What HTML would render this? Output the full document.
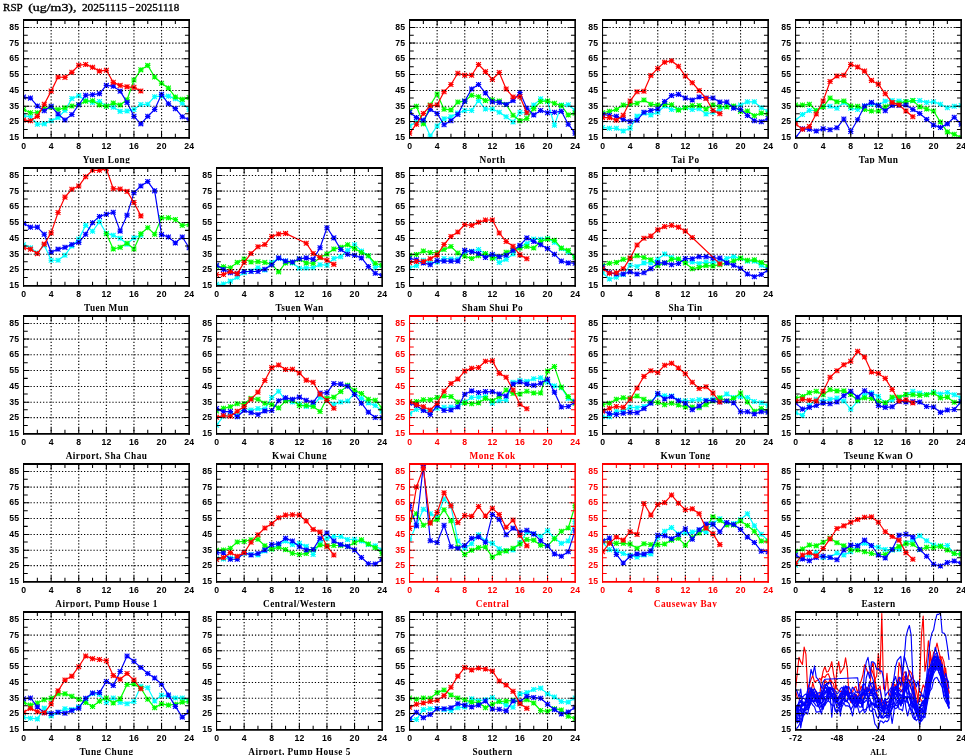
<!DOCTYPE html>
<html lang="en"><head><meta charset="utf-8"><title>RSP (ug/m3), 20251115-20251118</title>
<style>
html,body{margin:0;padding:0;background:#fff;}
body{width:965px;height:755px;overflow:hidden;}
svg{display:block;}
text{white-space:pre;}
.t{font-family:"Liberation Serif","DejaVu Serif",serif;font-size:11.4px;fill:#000;stroke:#000;stroke-width:.35px;}
.n{font-family:"Liberation Sans","DejaVu Sans",sans-serif;font-weight:bold;font-size:8.7px;letter-spacing:.2px;}
.l{font-family:"Liberation Serif","DejaVu Serif",serif;font-weight:bold;font-size:9.3px;text-anchor:middle;letter-spacing:.45px;}
.gr{fill:none;stroke:#000;stroke-width:1.15;stroke-dasharray:1.25 1.9;}
.k{fill:none;stroke-width:1.05;}
.s{fill:none;stroke-width:1.2;stroke-linejoin:round;}
.c{stroke:#0ff;marker:url(#mc);}
.g{stroke:#0f0;marker:url(#mg);}
.b{stroke:#00f;marker:url(#mb);}
.r{stroke:#f00;marker:url(#mr);}
.a{fill:none;stroke-width:1.15;stroke-linejoin:round;}
</style></head><body>
<svg width="965" height="755" viewBox="0 0 965 755">
<rect width="965" height="755" fill="#fff"/>
<defs>
<marker id="mc" viewBox="-4 -4 8 8" markerWidth="8" markerHeight="8" refX="0" refY="0" markerUnits="userSpaceOnUse" orient="0"><path d="M-2.7 0H2.7M0 -2.5V2.5M-2.4 -2.4L2.4 2.4M2.4 -2.4L-2.4 2.4" fill="none" stroke="#00ffff" stroke-width="1.1"/></marker>
<marker id="mg" viewBox="-4 -4 8 8" markerWidth="8" markerHeight="8" refX="0" refY="0" markerUnits="userSpaceOnUse" orient="0"><path d="M-2.7 0H2.7M0 -2.5V2.5M-2.4 -2.4L2.4 2.4M2.4 -2.4L-2.4 2.4" fill="none" stroke="#00ff00" stroke-width="1.1"/></marker>
<marker id="mb" viewBox="-4 -4 8 8" markerWidth="8" markerHeight="8" refX="0" refY="0" markerUnits="userSpaceOnUse" orient="0"><path d="M-2.7 0H2.7M0 -2.5V2.5M-2.4 -2.4L2.4 2.4M2.4 -2.4L-2.4 2.4" fill="none" stroke="#0000ff" stroke-width="1.1"/></marker>
<marker id="mr" viewBox="-4 -4 8 8" markerWidth="8" markerHeight="8" refX="0" refY="0" markerUnits="userSpaceOnUse" orient="0"><path d="M-2.7 0H2.7M0 -2.5V2.5M-2.4 -2.4L2.4 2.4M2.4 -2.4L-2.4 2.4" fill="none" stroke="#ff0000" stroke-width="1.1"/></marker>
</defs>
<text class="t" y="10.9"><tspan x="3.1" textLength="19.2" lengthAdjust="spacingAndGlyphs">RSP</tspan> <tspan x="28.2" textLength="48.3" lengthAdjust="spacingAndGlyphs">(ug/m3),</tspan> <tspan x="81.9" textLength="45" lengthAdjust="spacingAndGlyphs">20251115</tspan><tspan x="128.9" dy="-0.8" textLength="5.6" lengthAdjust="spacingAndGlyphs">-</tspan><tspan x="135.6" dy="0.8" textLength="43.6" lengthAdjust="spacingAndGlyphs">20251118</tspan></text>
<clipPath id="k00"><rect x="23.55" y="19.95" width="165.6" height="117.85"/></clipPath>
<g clip-path="url(#k00)">
<polyline class="s c" points="23.55,115.81 30.45,116.7 37.35,124.21 44.25,123.85 51.15,120.81 58.05,117.59 64.95,110.44 71.85,98.46 78.75,95.78 85.65,100.61 92.55,102.4 99.45,101.5 106.35,105.97 113.25,107.22 120.15,111.34 127.05,110.98 133.95,109.55 140.85,104.54 147.75,104.19 154.65,96.68 161.55,96.14 168.45,96.14 175.35,98.82 182.25,103.29 189.15,109.55"/>
<polyline class="s g" points="23.55,109.55 30.45,112.77 37.35,112.77 44.25,108.65 51.15,107.22 58.05,109.55 64.95,107.76 71.85,105.97 78.75,104.72 85.65,101.15 92.55,100.79 99.45,105.08 106.35,106.33 113.25,102.93 120.15,105.08 127.05,99.72 133.95,80.05 140.85,69.86 147.75,65.39 154.65,77.01 161.55,83.27 168.45,88.09 175.35,97.03 182.25,99.36 189.15,97.57"/>
<polyline class="s b" points="23.55,97.03 30.45,98.11 37.35,105.97 44.25,110.8 51.15,106.33 58.05,114.02 64.95,119.92 71.85,114.56 78.75,104.72 85.65,95.25 92.55,94.71 99.45,93.64 106.35,85.41 113.25,86.13 120.15,91.13 127.05,102.4 133.95,116.34 140.85,123.85 147.75,116.34 154.65,109.55 161.55,94.35 168.45,103.83 175.35,108.65 182.25,116.7 189.15,119.74"/>
<polyline class="s r" points="23.55,119.92 30.45,120.81 37.35,116.34 44.25,104.19 51.15,91.13 58.05,77.01 64.95,77.37 71.85,72.36 78.75,65.21 85.65,64.49 92.55,67.17 99.45,71.11 106.35,70.21 113.25,82.37 120.15,85.41 127.05,86.84 133.95,87.38 140.85,90.95"/>
</g>
<path class="k" stroke="#000" d="M23.55 129.5h4.2M189.15 129.5h-4.2M23.55 121.55h5.8M189.15 121.55h-5.8M23.55 113.78h4.2M189.15 113.78h-4.2M23.55 106.2h5.8M189.15 106.2h-5.8M23.55 98.07h4.2M189.15 98.07h-4.2M23.55 90.45h5.8M189.15 90.45h-5.8M23.55 82.36h4.2M189.15 82.36h-4.2M23.55 74.5h5.8M189.15 74.5h-5.8M23.55 66.66h4.2M189.15 66.66h-4.2M23.55 58.7h5.8M189.15 58.7h-5.8M23.55 50.94h4.2M189.15 50.94h-4.2M23.55 43.05h5.8M189.15 43.05h-5.8M23.55 35.23h4.2M189.15 35.23h-4.2M23.55 27.45h5.8M189.15 27.45h-5.8M51.15 19.95v5.8M51.15 137.8v-5.8M78.75 19.95v5.8M78.75 137.8v-5.8M106.35 19.95v5.8M106.35 137.8v-5.8M133.95 19.95v5.8M133.95 137.8v-5.8M161.55 19.95v5.8M161.55 137.8v-5.8M37.35 19.95v4.1M37.35 137.8v-4.1M64.95 19.95v4.1M64.95 137.8v-4.1M92.55 19.95v4.1M92.55 137.8v-4.1M120.15 19.95v4.1M120.15 137.8v-4.1M147.75 19.95v4.1M147.75 137.8v-4.1M175.35 19.95v4.1M175.35 137.8v-4.1"/>
<g stroke="#000" fill="none">
<path stroke-width="1.85" d="M23 19.95H189.95"/>
<path stroke-width="1.7" d="M23 137.8H189.95"/>
<path stroke-width="1.1" d="M23.55 19.02V138.65"/>
<path stroke-width="1.6" d="M189.15 19.02V138.65"/>
</g>
<path class="gr" d="M24.15 121.55H188.25M24.15 106.2H188.25M24.15 90.45H188.25M24.15 74.5H188.25M24.15 58.7H188.25M24.15 43.05H188.25M24.15 27.45H188.25M51.15 20.55V137M78.75 20.55V137M106.35 20.55V137M133.95 20.55V137M161.55 20.55V137"/>
<g class="n" fill="#000">
<text x="19.25" y="140" text-anchor="end">15</text>
<text x="19.25" y="124.2" text-anchor="end">25</text>
<text x="19.25" y="108.85" text-anchor="end">35</text>
<text x="19.25" y="93.1" text-anchor="end">45</text>
<text x="19.25" y="77.15" text-anchor="end">55</text>
<text x="19.25" y="61.35" text-anchor="end">65</text>
<text x="19.25" y="45.7" text-anchor="end">75</text>
<text x="19.25" y="30.1" text-anchor="end">85</text>
<text x="23.65" y="149" text-anchor="middle">0</text>
<text x="51.25" y="149" text-anchor="middle">4</text>
<text x="78.85" y="149" text-anchor="middle">8</text>
<text x="106.45" y="149" text-anchor="middle">12</text>
<text x="134.05" y="149" text-anchor="middle">16</text>
<text x="161.65" y="149" text-anchor="middle">20</text>
<text x="189.25" y="149" text-anchor="middle">24</text>
</g>
<text class="l" x="106.55" y="162.8" fill="#000">Yuen Long</text>
<rect x="3.55" y="163.4" width="195.6" height="3.6" fill="#fff"/>
<clipPath id="k02"><rect x="409.55" y="19.95" width="165.6" height="117.85"/></clipPath>
<g clip-path="url(#k02)">
<polyline class="s c" points="409.55,126 416.45,122.06 423.35,120.28 430.25,136.01 437.15,126 444.05,118.85 450.95,116.7 457.85,113.12 464.75,110.44 471.65,110.44 478.55,100.61 485.45,109.01 492.35,109.01 499.25,112.23 506.15,116.7 513.05,122.06 519.95,112.23 526.85,113.12 533.75,105.08 540.65,98.82 547.55,101.5 554.45,125.28 561.35,105.08 568.25,104.72 575.15,110.44"/>
<polyline class="s g" points="409.55,110.44 416.45,106.33 423.35,123.85 430.25,105.08 437.15,93.99 444.05,109.19 450.95,109.91 457.85,102.04 464.75,101.15 471.65,95.25 478.55,96.68 485.45,100.61 492.35,99.72 499.25,100.97 506.15,104.54 513.05,115.27 519.95,120.81 526.85,118.49 533.75,108.65 540.65,101.5 547.55,100.97 554.45,103.29 561.35,105.62 568.25,114.91 575.15,113.12"/>
<polyline class="s b" points="409.55,112.59 416.45,117.59 423.35,120.28 430.25,109.55 437.15,113.48 444.05,124.75 450.95,120.81 457.85,114.38 464.75,101.15 471.65,88.99 478.55,84.52 485.45,92.92 492.35,101.86 499.25,102.4 506.15,104.54 513.05,100.61 519.95,92.56 526.85,108.3 533.75,114.91 540.65,110.44 547.55,112.77 554.45,112.23 561.35,111.34 568.25,124.21 575.15,133.15"/>
<polyline class="s r" points="409.55,133.15 416.45,124.21 423.35,113.48 430.25,105.62 437.15,105.08 444.05,91.67 450.95,84.52 457.85,73.25 464.75,75.22 471.65,75.22 478.55,64.49 485.45,71.64 492.35,79.51 499.25,72.54 506.15,88.99 513.05,97.03 519.95,96.68 526.85,112.77"/>
</g>
<path class="k" stroke="#000" d="M409.55 129.5h4.2M575.15 129.5h-4.2M409.55 121.55h5.8M575.15 121.55h-5.8M409.55 113.78h4.2M575.15 113.78h-4.2M409.55 106.2h5.8M575.15 106.2h-5.8M409.55 98.07h4.2M575.15 98.07h-4.2M409.55 90.45h5.8M575.15 90.45h-5.8M409.55 82.36h4.2M575.15 82.36h-4.2M409.55 74.5h5.8M575.15 74.5h-5.8M409.55 66.66h4.2M575.15 66.66h-4.2M409.55 58.7h5.8M575.15 58.7h-5.8M409.55 50.94h4.2M575.15 50.94h-4.2M409.55 43.05h5.8M575.15 43.05h-5.8M409.55 35.23h4.2M575.15 35.23h-4.2M409.55 27.45h5.8M575.15 27.45h-5.8M437.15 19.95v5.8M437.15 137.8v-5.8M464.75 19.95v5.8M464.75 137.8v-5.8M492.35 19.95v5.8M492.35 137.8v-5.8M519.95 19.95v5.8M519.95 137.8v-5.8M547.55 19.95v5.8M547.55 137.8v-5.8M423.35 19.95v4.1M423.35 137.8v-4.1M450.95 19.95v4.1M450.95 137.8v-4.1M478.55 19.95v4.1M478.55 137.8v-4.1M506.15 19.95v4.1M506.15 137.8v-4.1M533.75 19.95v4.1M533.75 137.8v-4.1M561.35 19.95v4.1M561.35 137.8v-4.1"/>
<g stroke="#000" fill="none">
<path stroke-width="1.85" d="M409 19.95H575.95"/>
<path stroke-width="1.7" d="M409 137.8H575.95"/>
<path stroke-width="1.1" d="M409.55 19.02V138.65"/>
<path stroke-width="1.6" d="M575.15 19.02V138.65"/>
</g>
<path class="gr" d="M410.15 121.55H574.25M410.15 106.2H574.25M410.15 90.45H574.25M410.15 74.5H574.25M410.15 58.7H574.25M410.15 43.05H574.25M410.15 27.45H574.25M437.15 20.55V137M464.75 20.55V137M492.35 20.55V137M519.95 20.55V137M547.55 20.55V137"/>
<g class="n" fill="#000">
<text x="405.25" y="140" text-anchor="end">15</text>
<text x="405.25" y="124.2" text-anchor="end">25</text>
<text x="405.25" y="108.85" text-anchor="end">35</text>
<text x="405.25" y="93.1" text-anchor="end">45</text>
<text x="405.25" y="77.15" text-anchor="end">55</text>
<text x="405.25" y="61.35" text-anchor="end">65</text>
<text x="405.25" y="45.7" text-anchor="end">75</text>
<text x="405.25" y="30.1" text-anchor="end">85</text>
<text x="409.65" y="149" text-anchor="middle">0</text>
<text x="437.25" y="149" text-anchor="middle">4</text>
<text x="464.85" y="149" text-anchor="middle">8</text>
<text x="492.45" y="149" text-anchor="middle">12</text>
<text x="520.05" y="149" text-anchor="middle">16</text>
<text x="547.65" y="149" text-anchor="middle">20</text>
<text x="575.25" y="149" text-anchor="middle">24</text>
</g>
<text class="l" x="492.55" y="162.8" fill="#000">North</text>
<rect x="389.55" y="163.4" width="195.6" height="3.6" fill="#fff"/>
<clipPath id="k03"><rect x="602.55" y="19.95" width="165.6" height="117.85"/></clipPath>
<g clip-path="url(#k03)">
<polyline class="s c" points="602.55,127.43 609.45,128.32 616.35,128.32 623.25,131 630.15,128.32 637.05,116.16 643.95,113.12 650.85,114.91 657.75,112.23 664.65,105.97 671.55,109.55 678.45,109.55 685.35,107.76 692.25,109.55 699.15,108.65 706.05,114.02 712.95,112.23 719.85,109.55 726.75,105.97 733.65,106.87 740.55,105.08 747.45,101.86 754.35,101.86 761.25,107.76 768.15,111.34"/>
<polyline class="s g" points="602.55,112.77 609.45,111.34 616.35,109.55 623.25,105.08 630.15,104.19 637.05,103.29 643.95,100.07 650.85,104.19 657.75,105.08 664.65,104.19 671.55,104.72 678.45,110.09 685.35,107.76 692.25,105.62 699.15,105.62 706.05,109.01 712.95,105.08 719.85,106.51 726.75,106.87 733.65,105.97 740.55,111.34 747.45,110.98 754.35,115.81 761.25,113.12 768.15,114.02"/>
<polyline class="s b" points="602.55,114.56 609.45,115.27 616.35,116.34 623.25,119.38 630.15,121.53 637.05,120.28 643.95,112.23 650.85,110.44 657.75,109.01 664.65,101.5 671.55,95.6 678.45,94.35 685.35,97.93 692.25,100.07 699.15,97.03 706.05,97.93 712.95,97.93 719.85,102.04 726.75,102.04 733.65,108.12 740.55,109.55 747.45,115.45 754.35,120.81 761.25,121.71 768.15,118.49"/>
<polyline class="s r" points="602.55,117.59 609.45,117.59 616.35,120.28 623.25,115.27 630.15,100.97 637.05,91.67 643.95,91.31 650.85,75.58 657.75,68.43 664.65,62.17 671.55,60.74 678.45,66.28 685.35,75.94 692.25,82.73 699.15,90.42 706.05,98.46 712.95,110.44 719.85,113.66"/>
</g>
<path class="k" stroke="#000" d="M602.55 129.5h4.2M768.15 129.5h-4.2M602.55 121.55h5.8M768.15 121.55h-5.8M602.55 113.78h4.2M768.15 113.78h-4.2M602.55 106.2h5.8M768.15 106.2h-5.8M602.55 98.07h4.2M768.15 98.07h-4.2M602.55 90.45h5.8M768.15 90.45h-5.8M602.55 82.36h4.2M768.15 82.36h-4.2M602.55 74.5h5.8M768.15 74.5h-5.8M602.55 66.66h4.2M768.15 66.66h-4.2M602.55 58.7h5.8M768.15 58.7h-5.8M602.55 50.94h4.2M768.15 50.94h-4.2M602.55 43.05h5.8M768.15 43.05h-5.8M602.55 35.23h4.2M768.15 35.23h-4.2M602.55 27.45h5.8M768.15 27.45h-5.8M630.15 19.95v5.8M630.15 137.8v-5.8M657.75 19.95v5.8M657.75 137.8v-5.8M685.35 19.95v5.8M685.35 137.8v-5.8M712.95 19.95v5.8M712.95 137.8v-5.8M740.55 19.95v5.8M740.55 137.8v-5.8M616.35 19.95v4.1M616.35 137.8v-4.1M643.95 19.95v4.1M643.95 137.8v-4.1M671.55 19.95v4.1M671.55 137.8v-4.1M699.15 19.95v4.1M699.15 137.8v-4.1M726.75 19.95v4.1M726.75 137.8v-4.1M754.35 19.95v4.1M754.35 137.8v-4.1"/>
<g stroke="#000" fill="none">
<path stroke-width="1.85" d="M602 19.95H768.95"/>
<path stroke-width="1.7" d="M602 137.8H768.95"/>
<path stroke-width="1.1" d="M602.55 19.02V138.65"/>
<path stroke-width="1.6" d="M768.15 19.02V138.65"/>
</g>
<path class="gr" d="M603.15 121.55H767.25M603.15 106.2H767.25M603.15 90.45H767.25M603.15 74.5H767.25M603.15 58.7H767.25M603.15 43.05H767.25M603.15 27.45H767.25M630.15 20.55V137M657.75 20.55V137M685.35 20.55V137M712.95 20.55V137M740.55 20.55V137"/>
<g class="n" fill="#000">
<text x="598.25" y="140" text-anchor="end">15</text>
<text x="598.25" y="124.2" text-anchor="end">25</text>
<text x="598.25" y="108.85" text-anchor="end">35</text>
<text x="598.25" y="93.1" text-anchor="end">45</text>
<text x="598.25" y="77.15" text-anchor="end">55</text>
<text x="598.25" y="61.35" text-anchor="end">65</text>
<text x="598.25" y="45.7" text-anchor="end">75</text>
<text x="598.25" y="30.1" text-anchor="end">85</text>
<text x="602.65" y="149" text-anchor="middle">0</text>
<text x="630.25" y="149" text-anchor="middle">4</text>
<text x="657.85" y="149" text-anchor="middle">8</text>
<text x="685.45" y="149" text-anchor="middle">12</text>
<text x="713.05" y="149" text-anchor="middle">16</text>
<text x="740.65" y="149" text-anchor="middle">20</text>
<text x="768.25" y="149" text-anchor="middle">24</text>
</g>
<text class="l" x="685.55" y="162.8" fill="#000">Tai Po</text>
<rect x="582.55" y="163.4" width="195.6" height="3.6" fill="#fff"/>
<clipPath id="k04"><rect x="795.55" y="19.95" width="165.6" height="117.85"/></clipPath>
<g clip-path="url(#k04)">
<polyline class="s c" points="795.55,120.28 802.45,114.56 809.35,110.44 816.25,110.44 823.15,106.33 830.05,106.33 836.95,108.3 843.85,102.4 850.75,108.3 857.65,109.55 864.55,105.97 871.45,104.19 878.35,105.08 885.25,101.15 892.15,100.61 899.05,100.97 905.95,101.5 912.85,100.61 919.75,100.61 926.65,102.4 933.55,101.86 940.45,104.19 947.35,107.76 954.25,106.33 961.15,105.44"/>
<polyline class="s g" points="795.55,105.08 802.45,105.08 809.35,104.19 816.25,110.44 823.15,106.87 830.05,97.93 836.95,101.86 843.85,100.97 850.75,105.97 857.65,106.33 864.55,109.55 871.45,110.98 878.35,110.98 885.25,106.87 892.15,103.29 899.05,103.29 905.95,101.86 912.85,100.61 919.75,106.87 926.65,109.01 933.55,110.98 940.45,122.06 947.35,131.9 954.25,134.22 961.15,137.62"/>
<polyline class="s b" points="795.55,137.62 802.45,128.86 809.35,129.22 816.25,131 823.15,128.86 830.05,129.75 836.95,127.79 843.85,119.02 850.75,131.54 857.65,119.74 864.55,105.97 871.45,102.4 878.35,105.44 885.25,110.8 892.15,105.44 899.05,105.44 905.95,105.08 912.85,109.55 919.75,113.48 926.65,119.38 933.55,125.1 940.45,127.43 947.35,123.85 954.25,117.24 961.15,124.21"/>
<polyline class="s r" points="795.55,123.85 802.45,129.22 809.35,126.53 816.25,114.02 823.15,100.97 830.05,81.48 836.95,75.94 843.85,75.22 850.75,64.49 857.65,67 864.55,71.11 871.45,80.41 878.35,84.16 885.25,93.81 892.15,102.4 899.05,105.08 905.95,110.98 912.85,116.7"/>
</g>
<path class="k" stroke="#000" d="M795.55 129.5h4.2M961.15 129.5h-4.2M795.55 121.55h5.8M961.15 121.55h-5.8M795.55 113.78h4.2M961.15 113.78h-4.2M795.55 106.2h5.8M961.15 106.2h-5.8M795.55 98.07h4.2M961.15 98.07h-4.2M795.55 90.45h5.8M961.15 90.45h-5.8M795.55 82.36h4.2M961.15 82.36h-4.2M795.55 74.5h5.8M961.15 74.5h-5.8M795.55 66.66h4.2M961.15 66.66h-4.2M795.55 58.7h5.8M961.15 58.7h-5.8M795.55 50.94h4.2M961.15 50.94h-4.2M795.55 43.05h5.8M961.15 43.05h-5.8M795.55 35.23h4.2M961.15 35.23h-4.2M795.55 27.45h5.8M961.15 27.45h-5.8M823.15 19.95v5.8M823.15 137.8v-5.8M850.75 19.95v5.8M850.75 137.8v-5.8M878.35 19.95v5.8M878.35 137.8v-5.8M905.95 19.95v5.8M905.95 137.8v-5.8M933.55 19.95v5.8M933.55 137.8v-5.8M809.35 19.95v4.1M809.35 137.8v-4.1M836.95 19.95v4.1M836.95 137.8v-4.1M864.55 19.95v4.1M864.55 137.8v-4.1M892.15 19.95v4.1M892.15 137.8v-4.1M919.75 19.95v4.1M919.75 137.8v-4.1M947.35 19.95v4.1M947.35 137.8v-4.1"/>
<g stroke="#000" fill="none">
<path stroke-width="1.85" d="M795 19.95H961.95"/>
<path stroke-width="1.7" d="M795 137.8H961.95"/>
<path stroke-width="1.1" d="M795.55 19.02V138.65"/>
<path stroke-width="1.6" d="M961.15 19.02V138.65"/>
</g>
<path class="gr" d="M796.15 121.55H960.25M796.15 106.2H960.25M796.15 90.45H960.25M796.15 74.5H960.25M796.15 58.7H960.25M796.15 43.05H960.25M796.15 27.45H960.25M823.15 20.55V137M850.75 20.55V137M878.35 20.55V137M905.95 20.55V137M933.55 20.55V137"/>
<g class="n" fill="#000">
<text x="791.25" y="140" text-anchor="end">15</text>
<text x="791.25" y="124.2" text-anchor="end">25</text>
<text x="791.25" y="108.85" text-anchor="end">35</text>
<text x="791.25" y="93.1" text-anchor="end">45</text>
<text x="791.25" y="77.15" text-anchor="end">55</text>
<text x="791.25" y="61.35" text-anchor="end">65</text>
<text x="791.25" y="45.7" text-anchor="end">75</text>
<text x="791.25" y="30.1" text-anchor="end">85</text>
<text x="795.65" y="149" text-anchor="middle">0</text>
<text x="823.25" y="149" text-anchor="middle">4</text>
<text x="850.85" y="149" text-anchor="middle">8</text>
<text x="878.45" y="149" text-anchor="middle">12</text>
<text x="906.05" y="149" text-anchor="middle">16</text>
<text x="933.65" y="149" text-anchor="middle">20</text>
<text x="961.25" y="149" text-anchor="middle">24</text>
</g>
<text class="l" x="878.55" y="162.8" fill="#000">Tap Mun</text>
<rect x="775.55" y="163.4" width="195.6" height="3.6" fill="#fff"/>
<clipPath id="k10"><rect x="23.55" y="167.95" width="165.6" height="117.85"/></clipPath>
<g clip-path="url(#k10)">
<polyline class="s c" points="23.55,244.68 30.45,247.72 37.35,253.08 44.25,245.03 51.15,260.23 58.05,260.23 64.95,255.22 71.85,245.93 78.75,239.13 85.65,225.37 92.55,231.27 99.45,221.79 106.35,233.41 113.25,235.2 120.15,238.24 127.05,244.14 133.95,237.88 140.85,235.2"/>
<polyline class="s g" points="106.35,233.77 113.25,248.97 120.15,247.36 127.05,243.25 133.95,248.97 140.85,233.77 147.75,227.69 154.65,234.31 161.55,217.86 168.45,217.86 175.35,219.47 182.25,225.37 189.15,224.47"/>
<polyline class="s b" points="23.55,223.58 30.45,227.15 37.35,227.15 44.25,234.31 51.15,252.19 58.05,249.15 64.95,247.36 71.85,244.5 78.75,242.35 85.65,234.31 92.55,222.68 99.45,216.43 106.35,214.28 113.25,212.31 120.15,231.09 127.05,215.17 133.95,192.65 140.85,186.03 147.75,181.56 154.65,190.86 161.55,234.66 168.45,236.99 175.35,242.89 182.25,236.99 189.15,247.72"/>
<polyline class="s r" points="23.55,247.72 30.45,249.15 37.35,253.62 44.25,244.14 51.15,232.88 58.05,212.49 64.95,197.12 71.85,189.25 78.75,186.03 85.65,176.73 92.55,170.3 99.45,170.3 106.35,168.69 113.25,188.71 120.15,189.07 127.05,191.4 133.95,202.48 140.85,215.89"/>
</g>
<path class="k" stroke="#000" d="M23.55 277.5h4.2M189.15 277.5h-4.2M23.55 269.55h5.8M189.15 269.55h-5.8M23.55 261.79h4.2M189.15 261.79h-4.2M23.55 254.2h5.8M189.15 254.2h-5.8M23.55 246.08h4.2M189.15 246.08h-4.2M23.55 238.45h5.8M189.15 238.45h-5.8M23.55 230.37h4.2M189.15 230.37h-4.2M23.55 222.5h5.8M189.15 222.5h-5.8M23.55 214.66h4.2M189.15 214.66h-4.2M23.55 206.7h5.8M189.15 206.7h-5.8M23.55 198.95h4.2M189.15 198.95h-4.2M23.55 191.05h5.8M189.15 191.05h-5.8M23.55 183.24h4.2M189.15 183.24h-4.2M23.55 175.45h5.8M189.15 175.45h-5.8M51.15 167.95v5.8M51.15 285.8v-5.8M78.75 167.95v5.8M78.75 285.8v-5.8M106.35 167.95v5.8M106.35 285.8v-5.8M133.95 167.95v5.8M133.95 285.8v-5.8M161.55 167.95v5.8M161.55 285.8v-5.8M37.35 167.95v4.1M37.35 285.8v-4.1M64.95 167.95v4.1M64.95 285.8v-4.1M92.55 167.95v4.1M92.55 285.8v-4.1M120.15 167.95v4.1M120.15 285.8v-4.1M147.75 167.95v4.1M147.75 285.8v-4.1M175.35 167.95v4.1M175.35 285.8v-4.1"/>
<g stroke="#000" fill="none">
<path stroke-width="1.85" d="M23 167.95H189.95"/>
<path stroke-width="1.7" d="M23 285.8H189.95"/>
<path stroke-width="1.1" d="M23.55 167.02V286.65"/>
<path stroke-width="1.6" d="M189.15 167.02V286.65"/>
</g>
<path class="gr" d="M24.15 269.55H188.25M24.15 254.2H188.25M24.15 238.45H188.25M24.15 222.5H188.25M24.15 206.7H188.25M24.15 191.05H188.25M24.15 175.45H188.25M51.15 168.55V285M78.75 168.55V285M106.35 168.55V285M133.95 168.55V285M161.55 168.55V285"/>
<g class="n" fill="#000">
<text x="19.25" y="288" text-anchor="end">15</text>
<text x="19.25" y="272.2" text-anchor="end">25</text>
<text x="19.25" y="256.85" text-anchor="end">35</text>
<text x="19.25" y="241.1" text-anchor="end">45</text>
<text x="19.25" y="225.15" text-anchor="end">55</text>
<text x="19.25" y="209.35" text-anchor="end">65</text>
<text x="19.25" y="193.7" text-anchor="end">75</text>
<text x="19.25" y="178.1" text-anchor="end">85</text>
<text x="23.65" y="297" text-anchor="middle">0</text>
<text x="51.25" y="297" text-anchor="middle">4</text>
<text x="78.85" y="297" text-anchor="middle">8</text>
<text x="106.45" y="297" text-anchor="middle">12</text>
<text x="134.05" y="297" text-anchor="middle">16</text>
<text x="161.65" y="297" text-anchor="middle">20</text>
<text x="189.25" y="297" text-anchor="middle">24</text>
</g>
<text class="l" x="106.55" y="310.8" fill="#000">Tuen Mun</text>
<rect x="3.55" y="311.4" width="195.6" height="3.6" fill="#fff"/>
<clipPath id="k11"><rect x="216.55" y="167.95" width="165.6" height="117.85"/></clipPath>
<g clip-path="url(#k11)">
<polyline class="s c" points="216.55,284.37 223.45,284.01 230.35,281.15 237.25,277.22 244.15,272.75 251.05,270.96 257.95,267.74 264.85,270.06 271.75,262.38 278.65,258.44 285.55,261.12 292.45,262.91 299.35,268.28 306.25,267.92 313.15,267.74 320.05,264.7 326.95,265.24 333.85,258.44 340.75,256.65 347.65,250.4 354.55,244.68 361.45,250.93 368.35,255.76 375.25,267.38 382.15,265.59"/>
<polyline class="s g" points="216.55,266.49 223.45,266.85 230.35,267.74 237.25,262.38 244.15,258.98 251.05,262.02 257.95,261.66 264.85,262.38 271.75,264.34 278.65,271.85 285.55,262.91 292.45,262.38 299.35,259.34 306.25,262.91 313.15,263.27 320.05,257.55 326.95,253.97 333.85,248.97 340.75,247.36 347.65,244.68 354.55,248.61 361.45,252.54 368.35,255.76 375.25,263.27 382.15,265.24"/>
<polyline class="s b" points="216.55,265.24 223.45,269.53 230.35,272.75 237.25,273.64 244.15,271.49 251.05,271.49 257.95,271.49 264.85,269.17 271.75,264.7 278.65,257.91 285.55,261.12 292.45,262.02 299.35,258.8 306.25,257.91 313.15,259.34 320.05,247.72 326.95,227.69 333.85,237.88 340.75,249.5 347.65,254.33 354.55,255.22 361.45,257.91 368.35,266.49 375.25,273.28 382.15,275.43"/>
<polyline class="s r" points="216.55,274.53 223.45,274.53 230.35,271.49 237.25,273.64 244.15,262.38 251.05,253.44 257.95,246.82 264.85,244.5 271.75,236.45 278.65,233.95 285.55,233.41 306.25,243.25 313.15,253.44 320.05,257.55 326.95,260.23 333.85,264.34"/>
</g>
<path class="k" stroke="#000" d="M216.55 277.5h4.2M382.15 277.5h-4.2M216.55 269.55h5.8M382.15 269.55h-5.8M216.55 261.79h4.2M382.15 261.79h-4.2M216.55 254.2h5.8M382.15 254.2h-5.8M216.55 246.08h4.2M382.15 246.08h-4.2M216.55 238.45h5.8M382.15 238.45h-5.8M216.55 230.37h4.2M382.15 230.37h-4.2M216.55 222.5h5.8M382.15 222.5h-5.8M216.55 214.66h4.2M382.15 214.66h-4.2M216.55 206.7h5.8M382.15 206.7h-5.8M216.55 198.95h4.2M382.15 198.95h-4.2M216.55 191.05h5.8M382.15 191.05h-5.8M216.55 183.24h4.2M382.15 183.24h-4.2M216.55 175.45h5.8M382.15 175.45h-5.8M244.15 167.95v5.8M244.15 285.8v-5.8M271.75 167.95v5.8M271.75 285.8v-5.8M299.35 167.95v5.8M299.35 285.8v-5.8M326.95 167.95v5.8M326.95 285.8v-5.8M354.55 167.95v5.8M354.55 285.8v-5.8M230.35 167.95v4.1M230.35 285.8v-4.1M257.95 167.95v4.1M257.95 285.8v-4.1M285.55 167.95v4.1M285.55 285.8v-4.1M313.15 167.95v4.1M313.15 285.8v-4.1M340.75 167.95v4.1M340.75 285.8v-4.1M368.35 167.95v4.1M368.35 285.8v-4.1"/>
<g stroke="#000" fill="none">
<path stroke-width="1.85" d="M216 167.95H382.95"/>
<path stroke-width="1.7" d="M216 285.8H382.95"/>
<path stroke-width="1.1" d="M216.55 167.02V286.65"/>
<path stroke-width="1.6" d="M382.15 167.02V286.65"/>
</g>
<path class="gr" d="M217.15 269.55H381.25M217.15 254.2H381.25M217.15 238.45H381.25M217.15 222.5H381.25M217.15 206.7H381.25M217.15 191.05H381.25M217.15 175.45H381.25M244.15 168.55V285M271.75 168.55V285M299.35 168.55V285M326.95 168.55V285M354.55 168.55V285"/>
<g class="n" fill="#000">
<text x="212.25" y="288" text-anchor="end">15</text>
<text x="212.25" y="272.2" text-anchor="end">25</text>
<text x="212.25" y="256.85" text-anchor="end">35</text>
<text x="212.25" y="241.1" text-anchor="end">45</text>
<text x="212.25" y="225.15" text-anchor="end">55</text>
<text x="212.25" y="209.35" text-anchor="end">65</text>
<text x="212.25" y="193.7" text-anchor="end">75</text>
<text x="212.25" y="178.1" text-anchor="end">85</text>
<text x="216.65" y="297" text-anchor="middle">0</text>
<text x="244.25" y="297" text-anchor="middle">4</text>
<text x="271.85" y="297" text-anchor="middle">8</text>
<text x="299.45" y="297" text-anchor="middle">12</text>
<text x="327.05" y="297" text-anchor="middle">16</text>
<text x="354.65" y="297" text-anchor="middle">20</text>
<text x="382.25" y="297" text-anchor="middle">24</text>
</g>
<text class="l" x="299.55" y="310.8" fill="#000">Tsuen Wan</text>
<rect x="196.55" y="311.4" width="195.6" height="3.6" fill="#fff"/>
<clipPath id="k12"><rect x="409.55" y="167.95" width="165.6" height="117.85"/></clipPath>
<g clip-path="url(#k12)">
<polyline class="s c" points="409.55,267.74 416.45,265.59 423.35,260.23 430.25,262.91 437.15,262.02 444.05,258.44 450.95,258.98 457.85,258.98 464.75,252.19 471.65,251.29 478.55,249.5 485.45,253.97 492.35,255.76 499.25,262.56 506.15,259.34 513.05,253.97 519.95,246.82 526.85,243.6 533.75,239.13 540.65,239.31 547.55,238.42 554.45,242.35 561.35,248.61 568.25,252.19 575.15,256.65"/>
<polyline class="s g" points="409.55,255.22 416.45,254.51 423.35,250.93 430.25,252.54 437.15,252.72 444.05,249.5 450.95,246.46 457.85,253.08 464.75,256.3 471.65,258.44 478.55,255.76 485.45,253.62 492.35,258.09 499.25,256.65 506.15,252.19 513.05,249.86 519.95,248.07 526.85,246.46 533.75,248.07 540.65,241.46 547.55,239.13 554.45,240.21 561.35,248.07 568.25,250.4 575.15,257.55"/>
<polyline class="s b" points="409.55,258.44 416.45,259.87 423.35,262.91 430.25,264.7 437.15,260.59 444.05,261.12 450.95,261.12 457.85,261.12 464.75,250.4 471.65,251.65 478.55,253.44 485.45,257.55 492.35,254.51 499.25,256.65 506.15,255.22 513.05,250.4 519.95,245.39 526.85,237.88 533.75,241.46 540.65,244.68 547.55,248.61 554.45,254.33 561.35,261.12 568.25,262.91 575.15,263.27"/>
<polyline class="s r" points="409.55,262.56 416.45,261.48 423.35,261.48 430.25,258.8 437.15,254.87 444.05,244.5 450.95,236.45 457.85,231.98 464.75,224.47 471.65,225.37 478.55,222.33 485.45,220 492.35,220 499.25,233.05 506.15,241.46 513.05,246.28 519.95,254.87 526.85,258.8"/>
</g>
<path class="k" stroke="#000" d="M409.55 277.5h4.2M575.15 277.5h-4.2M409.55 269.55h5.8M575.15 269.55h-5.8M409.55 261.79h4.2M575.15 261.79h-4.2M409.55 254.2h5.8M575.15 254.2h-5.8M409.55 246.08h4.2M575.15 246.08h-4.2M409.55 238.45h5.8M575.15 238.45h-5.8M409.55 230.37h4.2M575.15 230.37h-4.2M409.55 222.5h5.8M575.15 222.5h-5.8M409.55 214.66h4.2M575.15 214.66h-4.2M409.55 206.7h5.8M575.15 206.7h-5.8M409.55 198.95h4.2M575.15 198.95h-4.2M409.55 191.05h5.8M575.15 191.05h-5.8M409.55 183.24h4.2M575.15 183.24h-4.2M409.55 175.45h5.8M575.15 175.45h-5.8M437.15 167.95v5.8M437.15 285.8v-5.8M464.75 167.95v5.8M464.75 285.8v-5.8M492.35 167.95v5.8M492.35 285.8v-5.8M519.95 167.95v5.8M519.95 285.8v-5.8M547.55 167.95v5.8M547.55 285.8v-5.8M423.35 167.95v4.1M423.35 285.8v-4.1M450.95 167.95v4.1M450.95 285.8v-4.1M478.55 167.95v4.1M478.55 285.8v-4.1M506.15 167.95v4.1M506.15 285.8v-4.1M533.75 167.95v4.1M533.75 285.8v-4.1M561.35 167.95v4.1M561.35 285.8v-4.1"/>
<g stroke="#000" fill="none">
<path stroke-width="1.85" d="M409 167.95H575.95"/>
<path stroke-width="1.7" d="M409 285.8H575.95"/>
<path stroke-width="1.1" d="M409.55 167.02V286.65"/>
<path stroke-width="1.6" d="M575.15 167.02V286.65"/>
</g>
<path class="gr" d="M410.15 269.55H574.25M410.15 254.2H574.25M410.15 238.45H574.25M410.15 222.5H574.25M410.15 206.7H574.25M410.15 191.05H574.25M410.15 175.45H574.25M437.15 168.55V285M464.75 168.55V285M492.35 168.55V285M519.95 168.55V285M547.55 168.55V285"/>
<g class="n" fill="#000">
<text x="405.25" y="288" text-anchor="end">15</text>
<text x="405.25" y="272.2" text-anchor="end">25</text>
<text x="405.25" y="256.85" text-anchor="end">35</text>
<text x="405.25" y="241.1" text-anchor="end">45</text>
<text x="405.25" y="225.15" text-anchor="end">55</text>
<text x="405.25" y="209.35" text-anchor="end">65</text>
<text x="405.25" y="193.7" text-anchor="end">75</text>
<text x="405.25" y="178.1" text-anchor="end">85</text>
<text x="409.65" y="297" text-anchor="middle">0</text>
<text x="437.25" y="297" text-anchor="middle">4</text>
<text x="464.85" y="297" text-anchor="middle">8</text>
<text x="492.45" y="297" text-anchor="middle">12</text>
<text x="520.05" y="297" text-anchor="middle">16</text>
<text x="547.65" y="297" text-anchor="middle">20</text>
<text x="575.25" y="297" text-anchor="middle">24</text>
</g>
<text class="l" x="492.55" y="310.8" fill="#000">Sham Shui Po</text>
<rect x="389.55" y="311.4" width="195.6" height="3.6" fill="#fff"/>
<clipPath id="k13"><rect x="602.55" y="167.95" width="165.6" height="117.85"/></clipPath>
<g clip-path="url(#k13)">
<polyline class="s c" points="602.55,272.75 609.45,279 616.35,277.22 623.25,274.53 630.15,265.24 637.05,266.49 643.95,262.91 650.85,262.91 657.75,259.34 664.65,253.97 671.55,257.55 678.45,259.34 685.35,262.02 692.25,262.02 699.15,263.45 706.05,262.02 712.95,262.91 719.85,261.12 726.75,258.44 733.65,256.65 740.55,258.44 747.45,261.12 754.35,261.12 761.25,265.24 768.15,269.17"/>
<polyline class="s g" points="602.55,265.24 609.45,263.27 616.35,262.38 623.25,259.34 630.15,258.8 637.05,255.76 643.95,257.55 650.85,259.69 657.75,265.59 664.65,262.91 671.55,259.34 678.45,258.98 685.35,262.91 692.25,268.81 699.15,267.38 706.05,265.59 712.95,265.95 719.85,264.7 726.75,262.91 733.65,261.12 740.55,258.09 747.45,260.23 754.35,259.87 761.25,262.38 768.15,266.49"/>
<polyline class="s b" points="602.55,266.49 609.45,272.75 616.35,274 623.25,274 630.15,271.85 637.05,274 643.95,272.75 650.85,268.63 657.75,262.91 664.65,262.91 671.55,264.7 678.45,263.45 685.35,258.44 692.25,258.8 699.15,256.65 706.05,256.65 712.95,257.91 719.85,258.09 726.75,262.91 733.65,265.24 740.55,268.28 747.45,274 754.35,276.68 761.25,274.53 768.15,270.06"/>
<polyline class="s r" points="602.55,268.81 609.45,273.28 616.35,272.75 623.25,268.81 630.15,258.09 637.05,245.03 643.95,238.24 650.85,236.09 657.75,229.84 664.65,226.62 671.55,225.37 678.45,227.15 685.35,231.09 692.25,237.52 719.85,263.81"/>
</g>
<path class="k" stroke="#000" d="M602.55 277.5h4.2M768.15 277.5h-4.2M602.55 269.55h5.8M768.15 269.55h-5.8M602.55 261.79h4.2M768.15 261.79h-4.2M602.55 254.2h5.8M768.15 254.2h-5.8M602.55 246.08h4.2M768.15 246.08h-4.2M602.55 238.45h5.8M768.15 238.45h-5.8M602.55 230.37h4.2M768.15 230.37h-4.2M602.55 222.5h5.8M768.15 222.5h-5.8M602.55 214.66h4.2M768.15 214.66h-4.2M602.55 206.7h5.8M768.15 206.7h-5.8M602.55 198.95h4.2M768.15 198.95h-4.2M602.55 191.05h5.8M768.15 191.05h-5.8M602.55 183.24h4.2M768.15 183.24h-4.2M602.55 175.45h5.8M768.15 175.45h-5.8M630.15 167.95v5.8M630.15 285.8v-5.8M657.75 167.95v5.8M657.75 285.8v-5.8M685.35 167.95v5.8M685.35 285.8v-5.8M712.95 167.95v5.8M712.95 285.8v-5.8M740.55 167.95v5.8M740.55 285.8v-5.8M616.35 167.95v4.1M616.35 285.8v-4.1M643.95 167.95v4.1M643.95 285.8v-4.1M671.55 167.95v4.1M671.55 285.8v-4.1M699.15 167.95v4.1M699.15 285.8v-4.1M726.75 167.95v4.1M726.75 285.8v-4.1M754.35 167.95v4.1M754.35 285.8v-4.1"/>
<g stroke="#000" fill="none">
<path stroke-width="1.85" d="M602 167.95H768.95"/>
<path stroke-width="1.7" d="M602 285.8H768.95"/>
<path stroke-width="1.1" d="M602.55 167.02V286.65"/>
<path stroke-width="1.6" d="M768.15 167.02V286.65"/>
</g>
<path class="gr" d="M603.15 269.55H767.25M603.15 254.2H767.25M603.15 238.45H767.25M603.15 222.5H767.25M603.15 206.7H767.25M603.15 191.05H767.25M603.15 175.45H767.25M630.15 168.55V285M657.75 168.55V285M685.35 168.55V285M712.95 168.55V285M740.55 168.55V285"/>
<g class="n" fill="#000">
<text x="598.25" y="288" text-anchor="end">15</text>
<text x="598.25" y="272.2" text-anchor="end">25</text>
<text x="598.25" y="256.85" text-anchor="end">35</text>
<text x="598.25" y="241.1" text-anchor="end">45</text>
<text x="598.25" y="225.15" text-anchor="end">55</text>
<text x="598.25" y="209.35" text-anchor="end">65</text>
<text x="598.25" y="193.7" text-anchor="end">75</text>
<text x="598.25" y="178.1" text-anchor="end">85</text>
<text x="602.65" y="297" text-anchor="middle">0</text>
<text x="630.25" y="297" text-anchor="middle">4</text>
<text x="657.85" y="297" text-anchor="middle">8</text>
<text x="685.45" y="297" text-anchor="middle">12</text>
<text x="713.05" y="297" text-anchor="middle">16</text>
<text x="740.65" y="297" text-anchor="middle">20</text>
<text x="768.25" y="297" text-anchor="middle">24</text>
</g>
<text class="l" x="685.55" y="310.8" fill="#000">Sha Tin</text>
<rect x="582.55" y="311.4" width="195.6" height="3.6" fill="#fff"/>
<clipPath id="k20"><rect x="23.55" y="315.95" width="165.6" height="117.85"/></clipPath>
<g clip-path="url(#k20)">
</g>
<path class="k" stroke="#000" d="M23.55 425.5h4.2M189.15 425.5h-4.2M23.55 417.55h5.8M189.15 417.55h-5.8M23.55 409.79h4.2M189.15 409.79h-4.2M23.55 402.2h5.8M189.15 402.2h-5.8M23.55 394.08h4.2M189.15 394.08h-4.2M23.55 386.45h5.8M189.15 386.45h-5.8M23.55 378.37h4.2M189.15 378.37h-4.2M23.55 370.5h5.8M189.15 370.5h-5.8M23.55 362.66h4.2M189.15 362.66h-4.2M23.55 354.7h5.8M189.15 354.7h-5.8M23.55 346.95h4.2M189.15 346.95h-4.2M23.55 339.05h5.8M189.15 339.05h-5.8M23.55 331.24h4.2M189.15 331.24h-4.2M23.55 323.45h5.8M189.15 323.45h-5.8M51.15 315.95v5.8M51.15 433.8v-5.8M78.75 315.95v5.8M78.75 433.8v-5.8M106.35 315.95v5.8M106.35 433.8v-5.8M133.95 315.95v5.8M133.95 433.8v-5.8M161.55 315.95v5.8M161.55 433.8v-5.8M37.35 315.95v4.1M37.35 433.8v-4.1M64.95 315.95v4.1M64.95 433.8v-4.1M92.55 315.95v4.1M92.55 433.8v-4.1M120.15 315.95v4.1M120.15 433.8v-4.1M147.75 315.95v4.1M147.75 433.8v-4.1M175.35 315.95v4.1M175.35 433.8v-4.1"/>
<g stroke="#000" fill="none">
<path stroke-width="1.85" d="M23 315.95H189.95"/>
<path stroke-width="1.7" d="M23 433.8H189.95"/>
<path stroke-width="1.1" d="M23.55 315.02V434.65"/>
<path stroke-width="1.6" d="M189.15 315.02V434.65"/>
</g>
<path class="gr" d="M24.15 417.55H188.25M24.15 402.2H188.25M24.15 386.45H188.25M24.15 370.5H188.25M24.15 354.7H188.25M24.15 339.05H188.25M24.15 323.45H188.25M51.15 316.55V433M78.75 316.55V433M106.35 316.55V433M133.95 316.55V433M161.55 316.55V433"/>
<g class="n" fill="#000">
<text x="19.25" y="436" text-anchor="end">15</text>
<text x="19.25" y="420.2" text-anchor="end">25</text>
<text x="19.25" y="404.85" text-anchor="end">35</text>
<text x="19.25" y="389.1" text-anchor="end">45</text>
<text x="19.25" y="373.15" text-anchor="end">55</text>
<text x="19.25" y="357.35" text-anchor="end">65</text>
<text x="19.25" y="341.7" text-anchor="end">75</text>
<text x="19.25" y="326.1" text-anchor="end">85</text>
<text x="23.65" y="445" text-anchor="middle">0</text>
<text x="51.25" y="445" text-anchor="middle">4</text>
<text x="78.85" y="445" text-anchor="middle">8</text>
<text x="106.45" y="445" text-anchor="middle">12</text>
<text x="134.05" y="445" text-anchor="middle">16</text>
<text x="161.65" y="445" text-anchor="middle">20</text>
<text x="189.25" y="445" text-anchor="middle">24</text>
</g>
<text class="l" x="106.55" y="458.8" fill="#000">Airport, Sha Chau</text>
<rect x="3.55" y="459.4" width="195.6" height="3.6" fill="#fff"/>
<clipPath id="k21"><rect x="216.55" y="315.95" width="165.6" height="117.85"/></clipPath>
<g clip-path="url(#k21)">
<polyline class="s c" points="216.55,425.22 223.45,416.28 230.35,414.49 237.25,414.49 244.15,408.23 251.05,410.02 257.95,408.59 264.85,409.12 271.75,397.5 278.65,391.25 285.55,400.19 292.45,401.97 299.35,403.76 306.25,406.44 313.15,405.55 320.05,397.5 326.95,400.19 333.85,404.3 340.75,401.97 347.65,401.08 354.55,393.03 361.45,398.4 368.35,402.87 375.25,405.55 382.15,411.27"/>
<polyline class="s g" points="216.55,410.91 223.45,408.23 230.35,406.8 237.25,403.76 244.15,403.76 251.05,398.4 257.95,399.29 264.85,403.22 271.75,404.65 278.65,407.87 285.55,401.08 292.45,400.19 299.35,405.55 306.25,405.55 313.15,406.44 320.05,411.45 326.95,398.4 333.85,397.15 340.75,391.6 347.65,385.35 354.55,390.35 361.45,393.57 368.35,399.29 375.25,400.19 382.15,408.23"/>
<polyline class="s b" points="216.55,408.59 223.45,411.81 230.35,411.45 237.25,416.81 244.15,410.56 251.05,412.7 257.95,414.49 264.85,410.91 271.75,410.56 278.65,400.72 285.55,397.86 292.45,399.29 299.35,397.15 306.25,400.19 313.15,402.33 320.05,393.03 326.95,392.68 333.85,383.56 340.75,384.09 347.65,386.24 354.55,394.46 361.45,403.22 368.35,412.16 375.25,417.53 382.15,417.71"/>
<polyline class="s r" points="216.55,417.17 223.45,415.74 230.35,416.28 237.25,411.27 244.15,406.44 251.05,399.29 257.95,392.14 264.85,380.52 271.75,367.64 278.65,364.96 285.55,369.43 292.45,369.25 299.35,373.01 306.25,380.16 313.15,382.31 320.05,394.28 326.95,400.54 333.85,408.23"/>
</g>
<path class="k" stroke="#000" d="M216.55 425.5h4.2M382.15 425.5h-4.2M216.55 417.55h5.8M382.15 417.55h-5.8M216.55 409.79h4.2M382.15 409.79h-4.2M216.55 402.2h5.8M382.15 402.2h-5.8M216.55 394.08h4.2M382.15 394.08h-4.2M216.55 386.45h5.8M382.15 386.45h-5.8M216.55 378.37h4.2M382.15 378.37h-4.2M216.55 370.5h5.8M382.15 370.5h-5.8M216.55 362.66h4.2M382.15 362.66h-4.2M216.55 354.7h5.8M382.15 354.7h-5.8M216.55 346.95h4.2M382.15 346.95h-4.2M216.55 339.05h5.8M382.15 339.05h-5.8M216.55 331.24h4.2M382.15 331.24h-4.2M216.55 323.45h5.8M382.15 323.45h-5.8M244.15 315.95v5.8M244.15 433.8v-5.8M271.75 315.95v5.8M271.75 433.8v-5.8M299.35 315.95v5.8M299.35 433.8v-5.8M326.95 315.95v5.8M326.95 433.8v-5.8M354.55 315.95v5.8M354.55 433.8v-5.8M230.35 315.95v4.1M230.35 433.8v-4.1M257.95 315.95v4.1M257.95 433.8v-4.1M285.55 315.95v4.1M285.55 433.8v-4.1M313.15 315.95v4.1M313.15 433.8v-4.1M340.75 315.95v4.1M340.75 433.8v-4.1M368.35 315.95v4.1M368.35 433.8v-4.1"/>
<g stroke="#000" fill="none">
<path stroke-width="1.85" d="M216 315.95H382.95"/>
<path stroke-width="1.7" d="M216 433.8H382.95"/>
<path stroke-width="1.1" d="M216.55 315.02V434.65"/>
<path stroke-width="1.6" d="M382.15 315.02V434.65"/>
</g>
<path class="gr" d="M217.15 417.55H381.25M217.15 402.2H381.25M217.15 386.45H381.25M217.15 370.5H381.25M217.15 354.7H381.25M217.15 339.05H381.25M217.15 323.45H381.25M244.15 316.55V433M271.75 316.55V433M299.35 316.55V433M326.95 316.55V433M354.55 316.55V433"/>
<g class="n" fill="#000">
<text x="212.25" y="436" text-anchor="end">15</text>
<text x="212.25" y="420.2" text-anchor="end">25</text>
<text x="212.25" y="404.85" text-anchor="end">35</text>
<text x="212.25" y="389.1" text-anchor="end">45</text>
<text x="212.25" y="373.15" text-anchor="end">55</text>
<text x="212.25" y="357.35" text-anchor="end">65</text>
<text x="212.25" y="341.7" text-anchor="end">75</text>
<text x="212.25" y="326.1" text-anchor="end">85</text>
<text x="216.65" y="445" text-anchor="middle">0</text>
<text x="244.25" y="445" text-anchor="middle">4</text>
<text x="271.85" y="445" text-anchor="middle">8</text>
<text x="299.45" y="445" text-anchor="middle">12</text>
<text x="327.05" y="445" text-anchor="middle">16</text>
<text x="354.65" y="445" text-anchor="middle">20</text>
<text x="382.25" y="445" text-anchor="middle">24</text>
</g>
<text class="l" x="299.55" y="458.8" fill="#000">Kwai Chung</text>
<rect x="196.55" y="459.4" width="195.6" height="3.6" fill="#fff"/>
<clipPath id="k22"><rect x="409.55" y="315.95" width="165.6" height="117.85"/></clipPath>
<g clip-path="url(#k22)">
<polyline class="s c" points="409.55,413.59 416.45,409.48 423.35,409.12 430.25,411.81 437.15,408.23 444.05,407.34 450.95,406.98 457.85,406.44 464.75,401.97 471.65,397.5 478.55,397.15 485.45,396.61 492.35,403.22 499.25,400.72 506.15,400.19 513.05,382.31 519.95,380.52 526.85,381.41 533.75,378.73 540.65,377.84 547.55,382.31 554.45,385.88 561.35,387.67 568.25,398.4 575.15,401.08"/>
<polyline class="s g" points="409.55,401.97 416.45,401.62 423.35,399.83 430.25,399.83 437.15,397.5 444.05,396.07 450.95,396.61 457.85,401.97 464.75,402.87 471.65,403.76 478.55,402.87 485.45,398.4 492.35,400.72 499.25,396.61 506.15,389.99 513.05,393.39 519.95,393.93 526.85,391.25 533.75,393.03 540.65,393.03 547.55,371.04 554.45,366.57 561.35,387.13 568.25,396.61 575.15,403.22"/>
<polyline class="s b" points="409.55,403.22 416.45,405.55 423.35,410.56 430.25,414.49 437.15,405.55 444.05,410.56 450.95,410.02 457.85,406.98 464.75,394.28 471.65,390.89 478.55,392.5 485.45,391.6 492.35,391.78 499.25,393.93 506.15,396.07 513.05,384.09 519.95,381.95 526.85,384.09 533.75,385.35 540.65,383.2 547.55,379.27 554.45,392.14 561.35,406.98 568.25,406.44 575.15,401.97"/>
<polyline class="s r" points="409.55,401.62 416.45,404.65 423.35,406.8 430.25,410.02 437.15,403.22 444.05,391.25 450.95,383.56 457.85,379.09 464.75,371.04 471.65,368.36 478.55,367.47 485.45,361.21 492.35,360.85 499.25,373.37 506.15,377.3 513.05,389.99 519.95,404.3 526.85,408.77"/>
</g>
<path class="k" stroke="#ff0000" d="M409.55 425.5h4.2M575.15 425.5h-4.2M409.55 417.55h5.8M575.15 417.55h-5.8M409.55 409.79h4.2M575.15 409.79h-4.2M409.55 402.2h5.8M575.15 402.2h-5.8M409.55 394.08h4.2M575.15 394.08h-4.2M409.55 386.45h5.8M575.15 386.45h-5.8M409.55 378.37h4.2M575.15 378.37h-4.2M409.55 370.5h5.8M575.15 370.5h-5.8M409.55 362.66h4.2M575.15 362.66h-4.2M409.55 354.7h5.8M575.15 354.7h-5.8M409.55 346.95h4.2M575.15 346.95h-4.2M409.55 339.05h5.8M575.15 339.05h-5.8M409.55 331.24h4.2M575.15 331.24h-4.2M409.55 323.45h5.8M575.15 323.45h-5.8M437.15 315.95v5.8M437.15 433.8v-5.8M464.75 315.95v5.8M464.75 433.8v-5.8M492.35 315.95v5.8M492.35 433.8v-5.8M519.95 315.95v5.8M519.95 433.8v-5.8M547.55 315.95v5.8M547.55 433.8v-5.8M423.35 315.95v4.1M423.35 433.8v-4.1M450.95 315.95v4.1M450.95 433.8v-4.1M478.55 315.95v4.1M478.55 433.8v-4.1M506.15 315.95v4.1M506.15 433.8v-4.1M533.75 315.95v4.1M533.75 433.8v-4.1M561.35 315.95v4.1M561.35 433.8v-4.1"/>
<g stroke="#ff0000" fill="none">
<path stroke-width="1.85" d="M409 315.95H575.95"/>
<path stroke-width="1.7" d="M409 433.8H575.95"/>
<path stroke-width="1.1" d="M409.55 315.02V434.65"/>
<path stroke-width="1.6" d="M575.15 315.02V434.65"/>
</g>
<path class="gr" d="M410.15 417.55H574.25M410.15 402.2H574.25M410.15 386.45H574.25M410.15 370.5H574.25M410.15 354.7H574.25M410.15 339.05H574.25M410.15 323.45H574.25M437.15 316.55V433M464.75 316.55V433M492.35 316.55V433M519.95 316.55V433M547.55 316.55V433"/>
<g class="n" fill="#ff0000">
<text x="405.25" y="436" text-anchor="end">15</text>
<text x="405.25" y="420.2" text-anchor="end">25</text>
<text x="405.25" y="404.85" text-anchor="end">35</text>
<text x="405.25" y="389.1" text-anchor="end">45</text>
<text x="405.25" y="373.15" text-anchor="end">55</text>
<text x="405.25" y="357.35" text-anchor="end">65</text>
<text x="405.25" y="341.7" text-anchor="end">75</text>
<text x="405.25" y="326.1" text-anchor="end">85</text>
<text x="409.65" y="445" text-anchor="middle">0</text>
<text x="437.25" y="445" text-anchor="middle">4</text>
<text x="464.85" y="445" text-anchor="middle">8</text>
<text x="492.45" y="445" text-anchor="middle">12</text>
<text x="520.05" y="445" text-anchor="middle">16</text>
<text x="547.65" y="445" text-anchor="middle">20</text>
<text x="575.25" y="445" text-anchor="middle">24</text>
</g>
<text class="l" x="492.55" y="458.8" fill="#ff0000">Mong Kok</text>
<rect x="389.55" y="459.4" width="195.6" height="3.6" fill="#fff"/>
<clipPath id="k23"><rect x="602.55" y="315.95" width="165.6" height="117.85"/></clipPath>
<g clip-path="url(#k23)">
<polyline class="s c" points="602.55,416.81 609.45,416.81 616.35,411.27 623.25,410.91 630.15,407.34 637.05,407.69 643.95,406.44 650.85,401.97 657.75,394.82 664.65,395.72 671.55,396.07 678.45,400.19 685.35,400.72 692.25,400.54 699.15,399.65 706.05,400.19 712.95,399.29 719.85,398.4 726.75,393.93 733.65,397.5 740.55,396.61 747.45,397.5 754.35,401.44 761.25,402.87 768.15,405.55"/>
<polyline class="s g" points="602.55,404.65 609.45,403.22 616.35,399.29 623.25,397.86 630.15,398.4 637.05,396.07 643.95,399.29 650.85,401.97 657.75,402.51 664.65,404.65 671.55,403.22 678.45,405.01 685.35,406.98 692.25,406.98 699.15,407.69 706.05,404.65 712.95,401.08 719.85,397.86 726.75,401.08 733.65,398.4 740.55,393.03 747.45,401.97 754.35,411.27 761.25,408.59 768.15,411.27"/>
<polyline class="s b" points="602.55,410.91 609.45,413.59 616.35,414.49 623.25,413.24 630.15,412.34 637.05,412.7 643.95,408.59 650.85,403.22 657.75,393.57 664.65,398.93 671.55,396.61 678.45,400.72 685.35,403.22 692.25,409.66 699.15,406.09 706.05,400.72 712.95,400.54 719.85,401.97 726.75,401.08 733.65,402.87 740.55,411.81 747.45,411.81 754.35,413.95 761.25,411.81 768.15,412.16"/>
<polyline class="s r" points="602.55,410.91 609.45,408.23 616.35,406.44 623.25,407.34 630.15,399.29 637.05,388.03 643.95,376.41 650.85,370.68 657.75,372.47 664.65,365.32 671.55,363.17 678.45,368 685.35,373.72 692.25,382.31 699.15,388.56 706.05,386.78 712.95,393.03 719.85,401.97"/>
</g>
<path class="k" stroke="#000" d="M602.55 425.5h4.2M768.15 425.5h-4.2M602.55 417.55h5.8M768.15 417.55h-5.8M602.55 409.79h4.2M768.15 409.79h-4.2M602.55 402.2h5.8M768.15 402.2h-5.8M602.55 394.08h4.2M768.15 394.08h-4.2M602.55 386.45h5.8M768.15 386.45h-5.8M602.55 378.37h4.2M768.15 378.37h-4.2M602.55 370.5h5.8M768.15 370.5h-5.8M602.55 362.66h4.2M768.15 362.66h-4.2M602.55 354.7h5.8M768.15 354.7h-5.8M602.55 346.95h4.2M768.15 346.95h-4.2M602.55 339.05h5.8M768.15 339.05h-5.8M602.55 331.24h4.2M768.15 331.24h-4.2M602.55 323.45h5.8M768.15 323.45h-5.8M630.15 315.95v5.8M630.15 433.8v-5.8M657.75 315.95v5.8M657.75 433.8v-5.8M685.35 315.95v5.8M685.35 433.8v-5.8M712.95 315.95v5.8M712.95 433.8v-5.8M740.55 315.95v5.8M740.55 433.8v-5.8M616.35 315.95v4.1M616.35 433.8v-4.1M643.95 315.95v4.1M643.95 433.8v-4.1M671.55 315.95v4.1M671.55 433.8v-4.1M699.15 315.95v4.1M699.15 433.8v-4.1M726.75 315.95v4.1M726.75 433.8v-4.1M754.35 315.95v4.1M754.35 433.8v-4.1"/>
<g stroke="#000" fill="none">
<path stroke-width="1.85" d="M602 315.95H768.95"/>
<path stroke-width="1.7" d="M602 433.8H768.95"/>
<path stroke-width="1.1" d="M602.55 315.02V434.65"/>
<path stroke-width="1.6" d="M768.15 315.02V434.65"/>
</g>
<path class="gr" d="M603.15 417.55H767.25M603.15 402.2H767.25M603.15 386.45H767.25M603.15 370.5H767.25M603.15 354.7H767.25M603.15 339.05H767.25M603.15 323.45H767.25M630.15 316.55V433M657.75 316.55V433M685.35 316.55V433M712.95 316.55V433M740.55 316.55V433"/>
<g class="n" fill="#000">
<text x="598.25" y="436" text-anchor="end">15</text>
<text x="598.25" y="420.2" text-anchor="end">25</text>
<text x="598.25" y="404.85" text-anchor="end">35</text>
<text x="598.25" y="389.1" text-anchor="end">45</text>
<text x="598.25" y="373.15" text-anchor="end">55</text>
<text x="598.25" y="357.35" text-anchor="end">65</text>
<text x="598.25" y="341.7" text-anchor="end">75</text>
<text x="598.25" y="326.1" text-anchor="end">85</text>
<text x="602.65" y="445" text-anchor="middle">0</text>
<text x="630.25" y="445" text-anchor="middle">4</text>
<text x="657.85" y="445" text-anchor="middle">8</text>
<text x="685.45" y="445" text-anchor="middle">12</text>
<text x="713.05" y="445" text-anchor="middle">16</text>
<text x="740.65" y="445" text-anchor="middle">20</text>
<text x="768.25" y="445" text-anchor="middle">24</text>
</g>
<text class="l" x="685.55" y="458.8" fill="#000">Kwun Tong</text>
<rect x="582.55" y="459.4" width="195.6" height="3.6" fill="#fff"/>
<clipPath id="k24"><rect x="795.55" y="315.95" width="165.6" height="117.85"/></clipPath>
<g clip-path="url(#k24)">
<polyline class="s c" points="795.55,412.7 802.45,415.38 809.35,405.55 816.25,399.29 823.15,401.08 830.05,399.29 836.95,398.04 843.85,401.08 850.75,409.12 857.65,401.08 864.55,394.82 871.45,392.68 878.35,396.61 885.25,402.87 892.15,400.19 899.05,397.5 905.95,394.82 912.85,391.25 919.75,393.03 926.65,394.46 933.55,392.14 940.45,393.93 947.35,392.5 954.25,394.82 961.15,397.86"/>
<polyline class="s g" points="795.55,397.86 802.45,396.61 809.35,392.68 816.25,391.25 823.15,394.82 830.05,389.81 836.95,390.89 843.85,390.89 850.75,394.46 857.65,400.19 864.55,397.86 871.45,398.4 878.35,401.62 885.25,402.87 892.15,397.15 899.05,397.15 905.95,394.46 912.85,394.82 919.75,395.36 926.65,394.82 933.55,393.03 940.45,397.86 947.35,397.15 954.25,402.33 961.15,401.97"/>
<polyline class="s b" points="795.55,402.87 802.45,409.12 809.35,407.34 816.25,405.55 823.15,402.87 830.05,403.76 836.95,401.97 843.85,395.72 850.75,391.25 857.65,397.15 864.55,390.71 871.45,394.28 878.35,405.55 885.25,407.34 892.15,406.8 899.05,401.44 905.95,401.97 912.85,401.44 919.75,401.97 926.65,406.44 933.55,406.98 940.45,412.34 947.35,410.02 954.25,409.48 961.15,401.62"/>
<polyline class="s r" points="795.55,401.08 802.45,399.29 809.35,400.19 816.25,401.08 823.15,391.25 830.05,377.3 836.95,370.68 843.85,364.78 850.75,361.21 857.65,351.37 864.55,356.92 871.45,371.94 878.35,373.37 885.25,378.37 892.15,389.46 899.05,401.08 905.95,399.83 912.85,402.87"/>
</g>
<path class="k" stroke="#000" d="M795.55 425.5h4.2M961.15 425.5h-4.2M795.55 417.55h5.8M961.15 417.55h-5.8M795.55 409.79h4.2M961.15 409.79h-4.2M795.55 402.2h5.8M961.15 402.2h-5.8M795.55 394.08h4.2M961.15 394.08h-4.2M795.55 386.45h5.8M961.15 386.45h-5.8M795.55 378.37h4.2M961.15 378.37h-4.2M795.55 370.5h5.8M961.15 370.5h-5.8M795.55 362.66h4.2M961.15 362.66h-4.2M795.55 354.7h5.8M961.15 354.7h-5.8M795.55 346.95h4.2M961.15 346.95h-4.2M795.55 339.05h5.8M961.15 339.05h-5.8M795.55 331.24h4.2M961.15 331.24h-4.2M795.55 323.45h5.8M961.15 323.45h-5.8M823.15 315.95v5.8M823.15 433.8v-5.8M850.75 315.95v5.8M850.75 433.8v-5.8M878.35 315.95v5.8M878.35 433.8v-5.8M905.95 315.95v5.8M905.95 433.8v-5.8M933.55 315.95v5.8M933.55 433.8v-5.8M809.35 315.95v4.1M809.35 433.8v-4.1M836.95 315.95v4.1M836.95 433.8v-4.1M864.55 315.95v4.1M864.55 433.8v-4.1M892.15 315.95v4.1M892.15 433.8v-4.1M919.75 315.95v4.1M919.75 433.8v-4.1M947.35 315.95v4.1M947.35 433.8v-4.1"/>
<g stroke="#000" fill="none">
<path stroke-width="1.85" d="M795 315.95H961.95"/>
<path stroke-width="1.7" d="M795 433.8H961.95"/>
<path stroke-width="1.1" d="M795.55 315.02V434.65"/>
<path stroke-width="1.6" d="M961.15 315.02V434.65"/>
</g>
<path class="gr" d="M796.15 417.55H960.25M796.15 402.2H960.25M796.15 386.45H960.25M796.15 370.5H960.25M796.15 354.7H960.25M796.15 339.05H960.25M796.15 323.45H960.25M823.15 316.55V433M850.75 316.55V433M878.35 316.55V433M905.95 316.55V433M933.55 316.55V433"/>
<g class="n" fill="#000">
<text x="791.25" y="436" text-anchor="end">15</text>
<text x="791.25" y="420.2" text-anchor="end">25</text>
<text x="791.25" y="404.85" text-anchor="end">35</text>
<text x="791.25" y="389.1" text-anchor="end">45</text>
<text x="791.25" y="373.15" text-anchor="end">55</text>
<text x="791.25" y="357.35" text-anchor="end">65</text>
<text x="791.25" y="341.7" text-anchor="end">75</text>
<text x="791.25" y="326.1" text-anchor="end">85</text>
<text x="795.65" y="445" text-anchor="middle">0</text>
<text x="823.25" y="445" text-anchor="middle">4</text>
<text x="850.85" y="445" text-anchor="middle">8</text>
<text x="878.45" y="445" text-anchor="middle">12</text>
<text x="906.05" y="445" text-anchor="middle">16</text>
<text x="933.65" y="445" text-anchor="middle">20</text>
<text x="961.25" y="445" text-anchor="middle">24</text>
</g>
<text class="l" x="878.55" y="458.8" fill="#000">Tseung Kwan O</text>
<rect x="775.55" y="459.4" width="195.6" height="3.6" fill="#fff"/>
<clipPath id="k30"><rect x="23.55" y="463.95" width="165.6" height="117.85"/></clipPath>
<g clip-path="url(#k30)">
</g>
<path class="k" stroke="#000" d="M23.55 573.5h4.2M189.15 573.5h-4.2M23.55 565.55h5.8M189.15 565.55h-5.8M23.55 557.79h4.2M189.15 557.79h-4.2M23.55 550.2h5.8M189.15 550.2h-5.8M23.55 542.08h4.2M189.15 542.08h-4.2M23.55 534.45h5.8M189.15 534.45h-5.8M23.55 526.37h4.2M189.15 526.37h-4.2M23.55 518.5h5.8M189.15 518.5h-5.8M23.55 510.66h4.2M189.15 510.66h-4.2M23.55 502.7h5.8M189.15 502.7h-5.8M23.55 494.95h4.2M189.15 494.95h-4.2M23.55 487.05h5.8M189.15 487.05h-5.8M23.55 479.24h4.2M189.15 479.24h-4.2M23.55 471.45h5.8M189.15 471.45h-5.8M51.15 463.95v5.8M51.15 581.8v-5.8M78.75 463.95v5.8M78.75 581.8v-5.8M106.35 463.95v5.8M106.35 581.8v-5.8M133.95 463.95v5.8M133.95 581.8v-5.8M161.55 463.95v5.8M161.55 581.8v-5.8M37.35 463.95v4.1M37.35 581.8v-4.1M64.95 463.95v4.1M64.95 581.8v-4.1M92.55 463.95v4.1M92.55 581.8v-4.1M120.15 463.95v4.1M120.15 581.8v-4.1M147.75 463.95v4.1M147.75 581.8v-4.1M175.35 463.95v4.1M175.35 581.8v-4.1"/>
<g stroke="#000" fill="none">
<path stroke-width="1.85" d="M23 463.95H189.95"/>
<path stroke-width="1.7" d="M23 581.8H189.95"/>
<path stroke-width="1.1" d="M23.55 463.02V582.65"/>
<path stroke-width="1.6" d="M189.15 463.02V582.65"/>
</g>
<path class="gr" d="M24.15 565.55H188.25M24.15 550.2H188.25M24.15 534.45H188.25M24.15 518.5H188.25M24.15 502.7H188.25M24.15 487.05H188.25M24.15 471.45H188.25M51.15 464.55V581M78.75 464.55V581M106.35 464.55V581M133.95 464.55V581M161.55 464.55V581"/>
<g class="n" fill="#000">
<text x="19.25" y="584" text-anchor="end">15</text>
<text x="19.25" y="568.2" text-anchor="end">25</text>
<text x="19.25" y="552.85" text-anchor="end">35</text>
<text x="19.25" y="537.1" text-anchor="end">45</text>
<text x="19.25" y="521.15" text-anchor="end">55</text>
<text x="19.25" y="505.35" text-anchor="end">65</text>
<text x="19.25" y="489.7" text-anchor="end">75</text>
<text x="19.25" y="474.1" text-anchor="end">85</text>
<text x="23.65" y="593" text-anchor="middle">0</text>
<text x="51.25" y="593" text-anchor="middle">4</text>
<text x="78.85" y="593" text-anchor="middle">8</text>
<text x="106.45" y="593" text-anchor="middle">12</text>
<text x="134.05" y="593" text-anchor="middle">16</text>
<text x="161.65" y="593" text-anchor="middle">20</text>
<text x="189.25" y="593" text-anchor="middle">24</text>
</g>
<text class="l" x="106.55" y="606.8" fill="#000">Airport, Pump House 1</text>
<rect x="3.55" y="607.4" width="195.6" height="3.6" fill="#fff"/>
<clipPath id="k31"><rect x="216.55" y="463.95" width="165.6" height="117.85"/></clipPath>
<g clip-path="url(#k31)">
<polyline class="s c" points="216.55,558.91 223.45,558.91 230.35,558.02 237.25,557.12 244.15,553.55 251.05,554.44 257.95,554.98 264.85,550.87 271.75,549.08 278.65,544.61 285.55,541.03 292.45,544.61 299.35,543.36 306.25,546.4 313.15,554.44 320.05,542.82 326.95,538.35 333.85,536.56 340.75,536.56 347.65,539.6 354.55,539.25 361.45,541.03 368.35,544.61 375.25,545.86 382.15,549.97"/>
<polyline class="s g" points="216.55,550.33 223.45,549.97 230.35,548.19 237.25,541.93 244.15,541.39 251.05,539.78 257.95,539.25 264.85,545.86 271.75,549.08 278.65,547.29 285.55,549.62 292.45,553.19 299.35,554.44 306.25,553.55 313.15,549.62 320.05,544.97 326.95,545.86 333.85,545.5 340.75,545.5 347.65,546.4 354.55,542.82 361.45,539.78 368.35,544.07 375.25,547.83 382.15,553.55"/>
<polyline class="s b" points="216.55,552.65 223.45,553.01 230.35,559.27 237.25,559.27 244.15,552.65 251.05,554.98 257.95,553.55 264.85,549.97 271.75,544.61 278.65,543.72 285.55,538.35 292.45,541.03 299.35,546.75 306.25,549.97 313.15,549.44 320.05,538.35 326.95,532.99 333.85,541.03 340.75,544.61 347.65,546.4 354.55,549.97 361.45,557.48 368.35,563.74 375.25,563.92 382.15,559.45"/>
<polyline class="s r" points="216.55,559.45 223.45,557.66 230.35,552.65 237.25,556.23 244.15,552.65 251.05,542.28 257.95,534.78 264.85,527.98 271.75,523.69 278.65,517.79 285.55,515.11 292.45,514.75 299.35,515.11 306.25,521.01 313.15,529.41 320.05,532.09 326.95,546.4 333.85,554.98"/>
</g>
<path class="k" stroke="#000" d="M216.55 573.5h4.2M382.15 573.5h-4.2M216.55 565.55h5.8M382.15 565.55h-5.8M216.55 557.79h4.2M382.15 557.79h-4.2M216.55 550.2h5.8M382.15 550.2h-5.8M216.55 542.08h4.2M382.15 542.08h-4.2M216.55 534.45h5.8M382.15 534.45h-5.8M216.55 526.37h4.2M382.15 526.37h-4.2M216.55 518.5h5.8M382.15 518.5h-5.8M216.55 510.66h4.2M382.15 510.66h-4.2M216.55 502.7h5.8M382.15 502.7h-5.8M216.55 494.95h4.2M382.15 494.95h-4.2M216.55 487.05h5.8M382.15 487.05h-5.8M216.55 479.24h4.2M382.15 479.24h-4.2M216.55 471.45h5.8M382.15 471.45h-5.8M244.15 463.95v5.8M244.15 581.8v-5.8M271.75 463.95v5.8M271.75 581.8v-5.8M299.35 463.95v5.8M299.35 581.8v-5.8M326.95 463.95v5.8M326.95 581.8v-5.8M354.55 463.95v5.8M354.55 581.8v-5.8M230.35 463.95v4.1M230.35 581.8v-4.1M257.95 463.95v4.1M257.95 581.8v-4.1M285.55 463.95v4.1M285.55 581.8v-4.1M313.15 463.95v4.1M313.15 581.8v-4.1M340.75 463.95v4.1M340.75 581.8v-4.1M368.35 463.95v4.1M368.35 581.8v-4.1"/>
<g stroke="#000" fill="none">
<path stroke-width="1.85" d="M216 463.95H382.95"/>
<path stroke-width="1.7" d="M216 581.8H382.95"/>
<path stroke-width="1.1" d="M216.55 463.02V582.65"/>
<path stroke-width="1.6" d="M382.15 463.02V582.65"/>
</g>
<path class="gr" d="M217.15 565.55H381.25M217.15 550.2H381.25M217.15 534.45H381.25M217.15 518.5H381.25M217.15 502.7H381.25M217.15 487.05H381.25M217.15 471.45H381.25M244.15 464.55V581M271.75 464.55V581M299.35 464.55V581M326.95 464.55V581M354.55 464.55V581"/>
<g class="n" fill="#000">
<text x="212.25" y="584" text-anchor="end">15</text>
<text x="212.25" y="568.2" text-anchor="end">25</text>
<text x="212.25" y="552.85" text-anchor="end">35</text>
<text x="212.25" y="537.1" text-anchor="end">45</text>
<text x="212.25" y="521.15" text-anchor="end">55</text>
<text x="212.25" y="505.35" text-anchor="end">65</text>
<text x="212.25" y="489.7" text-anchor="end">75</text>
<text x="212.25" y="474.1" text-anchor="end">85</text>
<text x="216.65" y="593" text-anchor="middle">0</text>
<text x="244.25" y="593" text-anchor="middle">4</text>
<text x="271.85" y="593" text-anchor="middle">8</text>
<text x="299.45" y="593" text-anchor="middle">12</text>
<text x="327.05" y="593" text-anchor="middle">16</text>
<text x="354.65" y="593" text-anchor="middle">20</text>
<text x="382.25" y="593" text-anchor="middle">24</text>
</g>
<text class="l" x="299.55" y="606.8" fill="#000">Central/Western</text>
<rect x="196.55" y="607.4" width="195.6" height="3.6" fill="#fff"/>
<clipPath id="k32"><rect x="409.55" y="463.95" width="165.6" height="117.85"/></clipPath>
<g clip-path="url(#k32)">
<polyline class="s c" points="409.55,540.14 416.45,524.94 423.35,509.21 430.25,513.86 437.15,516.54 444.05,499.02 450.95,506.17 457.85,541.03 464.75,548.19 471.65,543.72 478.55,534.78 485.45,541.03 492.35,543.36 499.25,548.72 506.15,550.87 513.05,549.97 519.95,542.82 526.85,532.09 533.75,533.88 540.65,536.21 547.55,530.66 554.45,538.35 561.35,543.36 568.25,541.03 575.15,521.37"/>
<polyline class="s g" points="409.55,519.58 416.45,513.68 423.35,525.3 430.25,522.26 437.15,519.58 444.05,509.74 450.95,520.83 457.85,547.29 464.75,554.44 471.65,550.33 478.55,547.65 485.45,546.93 492.35,557.12 499.25,553.01 506.15,550.87 513.05,548.19 519.95,544.07 526.85,539.6 533.75,540.14 540.65,545.15 547.55,545.86 554.45,538.71 561.35,531.2 568.25,527.98 575.15,505.63"/>
<polyline class="s b" points="409.55,505.63 416.45,525.84 423.35,465.58 430.25,540.68 437.15,542.46 444.05,525.3 450.95,546.75 457.85,548.19 464.75,545.5 471.65,538.35 478.55,536.92 485.45,542.28 492.35,514.57 499.25,519.58 506.15,534.78 513.05,528.16 519.95,532.09 526.85,530.31 533.75,533.88 540.65,540.68 547.55,545.86 554.45,553.91 561.35,556.23 568.25,551.76 575.15,530.31"/>
<polyline class="s r" points="409.55,528.52 416.45,487.04 423.35,468.09 430.25,523.15 437.15,512.43 444.05,492.76 450.95,505.63 457.85,522.62 464.75,515.47 471.65,516.36 478.55,506.53 485.45,516 492.35,508.31 499.25,514.57 506.15,527.27 513.05,519.94 519.95,535.13 526.85,545.86"/>
</g>
<path class="k" stroke="#ff0000" d="M409.55 573.5h4.2M575.15 573.5h-4.2M409.55 565.55h5.8M575.15 565.55h-5.8M409.55 557.79h4.2M575.15 557.79h-4.2M409.55 550.2h5.8M575.15 550.2h-5.8M409.55 542.08h4.2M575.15 542.08h-4.2M409.55 534.45h5.8M575.15 534.45h-5.8M409.55 526.37h4.2M575.15 526.37h-4.2M409.55 518.5h5.8M575.15 518.5h-5.8M409.55 510.66h4.2M575.15 510.66h-4.2M409.55 502.7h5.8M575.15 502.7h-5.8M409.55 494.95h4.2M575.15 494.95h-4.2M409.55 487.05h5.8M575.15 487.05h-5.8M409.55 479.24h4.2M575.15 479.24h-4.2M409.55 471.45h5.8M575.15 471.45h-5.8M437.15 463.95v5.8M437.15 581.8v-5.8M464.75 463.95v5.8M464.75 581.8v-5.8M492.35 463.95v5.8M492.35 581.8v-5.8M519.95 463.95v5.8M519.95 581.8v-5.8M547.55 463.95v5.8M547.55 581.8v-5.8M423.35 463.95v4.1M423.35 581.8v-4.1M450.95 463.95v4.1M450.95 581.8v-4.1M478.55 463.95v4.1M478.55 581.8v-4.1M506.15 463.95v4.1M506.15 581.8v-4.1M533.75 463.95v4.1M533.75 581.8v-4.1M561.35 463.95v4.1M561.35 581.8v-4.1"/>
<g stroke="#ff0000" fill="none">
<path stroke-width="1.85" d="M409 463.95H575.95"/>
<path stroke-width="1.7" d="M409 581.8H575.95"/>
<path stroke-width="1.1" d="M409.55 463.02V582.65"/>
<path stroke-width="1.6" d="M575.15 463.02V582.65"/>
</g>
<path class="gr" d="M410.15 565.55H574.25M410.15 550.2H574.25M410.15 534.45H574.25M410.15 518.5H574.25M410.15 502.7H574.25M410.15 487.05H574.25M410.15 471.45H574.25M437.15 464.55V581M464.75 464.55V581M492.35 464.55V581M519.95 464.55V581M547.55 464.55V581"/>
<g class="n" fill="#ff0000">
<text x="405.25" y="584" text-anchor="end">15</text>
<text x="405.25" y="568.2" text-anchor="end">25</text>
<text x="405.25" y="552.85" text-anchor="end">35</text>
<text x="405.25" y="537.1" text-anchor="end">45</text>
<text x="405.25" y="521.15" text-anchor="end">55</text>
<text x="405.25" y="505.35" text-anchor="end">65</text>
<text x="405.25" y="489.7" text-anchor="end">75</text>
<text x="405.25" y="474.1" text-anchor="end">85</text>
<text x="409.65" y="593" text-anchor="middle">0</text>
<text x="437.25" y="593" text-anchor="middle">4</text>
<text x="464.85" y="593" text-anchor="middle">8</text>
<text x="492.45" y="593" text-anchor="middle">12</text>
<text x="520.05" y="593" text-anchor="middle">16</text>
<text x="547.65" y="593" text-anchor="middle">20</text>
<text x="575.25" y="593" text-anchor="middle">24</text>
</g>
<text class="l" x="492.55" y="606.8" fill="#ff0000">Central</text>
<rect x="389.55" y="607.4" width="195.6" height="3.6" fill="#fff"/>
<clipPath id="k33"><rect x="602.55" y="463.95" width="165.6" height="117.85"/></clipPath>
<g clip-path="url(#k33)">
<polyline class="s c" points="602.55,542.46 609.45,549.62 616.35,550.87 623.25,553.55 630.15,555.34 637.05,557.12 643.95,554.98 650.85,553.91 657.75,537.46 664.65,531.2 671.55,527.62 678.45,533.88 685.35,532.99 692.25,532.09 699.15,530.31 706.05,532.09 712.95,523.15 719.85,518.68 726.75,524.05 733.65,523.51 740.55,519.58 747.45,513.68 754.35,525.84 761.25,534.24 768.15,540.68"/>
<polyline class="s g" points="602.55,541.03 609.45,542.82 616.35,543.36 623.25,543.36 630.15,544.07 637.05,548.19 643.95,543.72 650.85,544.61 657.75,544.61 664.65,544.07 671.55,540.14 678.45,538.35 685.35,545.15 692.25,537.46 699.15,532.99 706.05,527.27 712.95,516.9 719.85,520.47 726.75,524.94 733.65,524.94 740.55,521.01 747.45,525.48 754.35,531.2 761.25,541.03 768.15,541.03"/>
<polyline class="s b" points="602.55,541.03 609.45,537.99 616.35,554.44 623.25,563.02 630.15,556.23 637.05,553.91 643.95,554.09 650.85,550.87 657.75,535.31 664.65,535.67 671.55,538.71 678.45,534.78 685.35,528.88 692.25,539.25 699.15,529.77 706.05,524.05 712.95,524.41 719.85,531.74 726.75,522.62 733.65,524.58 740.55,529.41 747.45,537.1 754.35,542.46 761.25,551.22 768.15,551.76"/>
<polyline class="s r" points="602.55,551.76 609.45,543.36 616.35,536.92 623.25,540.14 630.15,531.74 637.05,534.42 643.95,503.49 650.85,515.11 657.75,504.38 664.65,502.59 671.55,495.08 678.45,503.13 685.35,509.74 692.25,508.85 699.15,513.68 706.05,528.16 712.95,533.88 719.85,544.61"/>
</g>
<path class="k" stroke="#ff0000" d="M602.55 573.5h4.2M768.15 573.5h-4.2M602.55 565.55h5.8M768.15 565.55h-5.8M602.55 557.79h4.2M768.15 557.79h-4.2M602.55 550.2h5.8M768.15 550.2h-5.8M602.55 542.08h4.2M768.15 542.08h-4.2M602.55 534.45h5.8M768.15 534.45h-5.8M602.55 526.37h4.2M768.15 526.37h-4.2M602.55 518.5h5.8M768.15 518.5h-5.8M602.55 510.66h4.2M768.15 510.66h-4.2M602.55 502.7h5.8M768.15 502.7h-5.8M602.55 494.95h4.2M768.15 494.95h-4.2M602.55 487.05h5.8M768.15 487.05h-5.8M602.55 479.24h4.2M768.15 479.24h-4.2M602.55 471.45h5.8M768.15 471.45h-5.8M630.15 463.95v5.8M630.15 581.8v-5.8M657.75 463.95v5.8M657.75 581.8v-5.8M685.35 463.95v5.8M685.35 581.8v-5.8M712.95 463.95v5.8M712.95 581.8v-5.8M740.55 463.95v5.8M740.55 581.8v-5.8M616.35 463.95v4.1M616.35 581.8v-4.1M643.95 463.95v4.1M643.95 581.8v-4.1M671.55 463.95v4.1M671.55 581.8v-4.1M699.15 463.95v4.1M699.15 581.8v-4.1M726.75 463.95v4.1M726.75 581.8v-4.1M754.35 463.95v4.1M754.35 581.8v-4.1"/>
<g stroke="#ff0000" fill="none">
<path stroke-width="1.85" d="M602 463.95H768.95"/>
<path stroke-width="1.7" d="M602 581.8H768.95"/>
<path stroke-width="1.1" d="M602.55 463.02V582.65"/>
<path stroke-width="1.6" d="M768.15 463.02V582.65"/>
</g>
<path class="gr" d="M603.15 565.55H767.25M603.15 550.2H767.25M603.15 534.45H767.25M603.15 518.5H767.25M603.15 502.7H767.25M603.15 487.05H767.25M603.15 471.45H767.25M630.15 464.55V581M657.75 464.55V581M685.35 464.55V581M712.95 464.55V581M740.55 464.55V581"/>
<g class="n" fill="#ff0000">
<text x="598.25" y="584" text-anchor="end">15</text>
<text x="598.25" y="568.2" text-anchor="end">25</text>
<text x="598.25" y="552.85" text-anchor="end">35</text>
<text x="598.25" y="537.1" text-anchor="end">45</text>
<text x="598.25" y="521.15" text-anchor="end">55</text>
<text x="598.25" y="505.35" text-anchor="end">65</text>
<text x="598.25" y="489.7" text-anchor="end">75</text>
<text x="598.25" y="474.1" text-anchor="end">85</text>
<text x="602.65" y="593" text-anchor="middle">0</text>
<text x="630.25" y="593" text-anchor="middle">4</text>
<text x="657.85" y="593" text-anchor="middle">8</text>
<text x="685.45" y="593" text-anchor="middle">12</text>
<text x="713.05" y="593" text-anchor="middle">16</text>
<text x="740.65" y="593" text-anchor="middle">20</text>
<text x="768.25" y="593" text-anchor="middle">24</text>
</g>
<text class="l" x="685.55" y="606.8" fill="#ff0000">Causeway Bay</text>
<rect x="582.55" y="607.4" width="195.6" height="3.6" fill="#fff"/>
<clipPath id="k34"><rect x="795.55" y="463.95" width="165.6" height="117.85"/></clipPath>
<g clip-path="url(#k34)">
<polyline class="s c" points="795.55,565.17 802.45,557.12 809.35,555.34 816.25,552.65 823.15,557.48 830.05,557.12 836.95,553.01 843.85,554.98 850.75,551.76 857.65,545.5 864.55,543.36 871.45,545.86 878.35,547.29 885.25,549.44 892.15,549.97 899.05,549.44 905.95,542.82 912.85,540.14 919.75,535.67 926.65,540.68 933.55,544.97 940.45,545.86 947.35,545.5 954.25,553.55 961.15,553.55"/>
<polyline class="s g" points="795.55,551.22 802.45,549.08 809.35,544.97 816.25,545.86 823.15,542.28 830.05,538.35 836.95,542.82 843.85,545.86 850.75,549.62 857.65,549.97 864.55,551.76 871.45,553.55 878.35,554.44 885.25,554.44 892.15,549.62 899.05,546.4 905.95,543.72 912.85,544.25 919.75,549.62 926.65,547.29 933.55,547.65 940.45,546.4 947.35,549.97 954.25,553.55 961.15,554.09"/>
<polyline class="s b" points="795.55,554.98 802.45,558.91 809.35,560.7 816.25,557.48 823.15,556.23 830.05,557.48 836.95,559.81 843.85,549.97 850.75,545.15 857.65,545.86 864.55,540.14 871.45,545.5 878.35,554.98 885.25,558.02 892.15,549.44 899.05,535.31 905.95,534.24 912.85,536.92 919.75,549.44 926.65,556.23 933.55,564.28 940.45,566.06 947.35,562.49 954.25,561.06 961.15,563.38"/>
<polyline class="s r" points="795.55,563.38 802.45,554.98 809.35,552.65 816.25,555.87 823.15,548.54 830.05,538.89 836.95,528.52 843.85,525.84 850.75,522.26 857.65,519.58 864.55,517.25 871.45,516.9 878.35,522.26 885.25,531.74 892.15,536.56 899.05,540.14 905.95,552.65 912.85,559.27"/>
</g>
<path class="k" stroke="#000" d="M795.55 573.5h4.2M961.15 573.5h-4.2M795.55 565.55h5.8M961.15 565.55h-5.8M795.55 557.79h4.2M961.15 557.79h-4.2M795.55 550.2h5.8M961.15 550.2h-5.8M795.55 542.08h4.2M961.15 542.08h-4.2M795.55 534.45h5.8M961.15 534.45h-5.8M795.55 526.37h4.2M961.15 526.37h-4.2M795.55 518.5h5.8M961.15 518.5h-5.8M795.55 510.66h4.2M961.15 510.66h-4.2M795.55 502.7h5.8M961.15 502.7h-5.8M795.55 494.95h4.2M961.15 494.95h-4.2M795.55 487.05h5.8M961.15 487.05h-5.8M795.55 479.24h4.2M961.15 479.24h-4.2M795.55 471.45h5.8M961.15 471.45h-5.8M823.15 463.95v5.8M823.15 581.8v-5.8M850.75 463.95v5.8M850.75 581.8v-5.8M878.35 463.95v5.8M878.35 581.8v-5.8M905.95 463.95v5.8M905.95 581.8v-5.8M933.55 463.95v5.8M933.55 581.8v-5.8M809.35 463.95v4.1M809.35 581.8v-4.1M836.95 463.95v4.1M836.95 581.8v-4.1M864.55 463.95v4.1M864.55 581.8v-4.1M892.15 463.95v4.1M892.15 581.8v-4.1M919.75 463.95v4.1M919.75 581.8v-4.1M947.35 463.95v4.1M947.35 581.8v-4.1"/>
<g stroke="#000" fill="none">
<path stroke-width="1.85" d="M795 463.95H961.95"/>
<path stroke-width="1.7" d="M795 581.8H961.95"/>
<path stroke-width="1.1" d="M795.55 463.02V582.65"/>
<path stroke-width="1.6" d="M961.15 463.02V582.65"/>
</g>
<path class="gr" d="M796.15 565.55H960.25M796.15 550.2H960.25M796.15 534.45H960.25M796.15 518.5H960.25M796.15 502.7H960.25M796.15 487.05H960.25M796.15 471.45H960.25M823.15 464.55V581M850.75 464.55V581M878.35 464.55V581M905.95 464.55V581M933.55 464.55V581"/>
<g class="n" fill="#000">
<text x="791.25" y="584" text-anchor="end">15</text>
<text x="791.25" y="568.2" text-anchor="end">25</text>
<text x="791.25" y="552.85" text-anchor="end">35</text>
<text x="791.25" y="537.1" text-anchor="end">45</text>
<text x="791.25" y="521.15" text-anchor="end">55</text>
<text x="791.25" y="505.35" text-anchor="end">65</text>
<text x="791.25" y="489.7" text-anchor="end">75</text>
<text x="791.25" y="474.1" text-anchor="end">85</text>
<text x="795.65" y="593" text-anchor="middle">0</text>
<text x="823.25" y="593" text-anchor="middle">4</text>
<text x="850.85" y="593" text-anchor="middle">8</text>
<text x="878.45" y="593" text-anchor="middle">12</text>
<text x="906.05" y="593" text-anchor="middle">16</text>
<text x="933.65" y="593" text-anchor="middle">20</text>
<text x="961.25" y="593" text-anchor="middle">24</text>
</g>
<text class="l" x="878.55" y="606.8" fill="#000">Eastern</text>
<rect x="775.55" y="607.4" width="195.6" height="3.6" fill="#fff"/>
<clipPath id="k40"><rect x="23.55" y="611.95" width="165.6" height="117.85"/></clipPath>
<g clip-path="url(#k40)">
<polyline class="s c" points="23.55,717.28 30.45,718.18 37.35,718.89 44.25,708.16 51.15,715.85 58.05,712.28 64.95,708.7 71.85,709.59 78.75,706.91 85.65,699.76 92.55,693.5 99.45,694.4 106.35,702.44 113.25,697.97 120.15,702.44 127.05,703.69 133.95,701.55 140.85,686.35 147.75,687.78 154.65,701.01 161.55,695.29 168.45,696.19 175.35,697.97 182.25,697.97 189.15,700.65"/>
<polyline class="s g" points="23.55,702.44 30.45,705.12 37.35,702.98 44.25,699.76 51.15,698.33 58.05,693.86 64.95,693.86 71.85,696.19 78.75,699.22 85.65,702.44 92.55,706.56 99.45,701.19 106.35,697.97 113.25,702.98 120.15,698.87 127.05,684.56 133.95,684.03 140.85,688.14 147.75,699.22 154.65,707.81 161.55,703.87 168.45,705.12 175.35,704.23 182.25,702.09 189.15,701.55"/>
<polyline class="s b" points="23.55,698.87 30.45,697.97 37.35,706.91 44.25,712.81 51.15,713.53 58.05,712.28 64.95,713.17 71.85,710.49 78.75,708.16 85.65,698.33 92.55,692.97 99.45,692.61 106.35,681.52 113.25,685.46 120.15,671.51 127.05,655.96 133.95,661.32 140.85,667.58 147.75,673.48 154.65,677.95 161.55,684.21 168.45,694.93 175.35,706.38 182.25,717.1 189.15,711.92"/>
<polyline class="s r" points="23.55,712.28 30.45,708.34 37.35,711.74 44.25,712.81 51.15,703.87 58.05,690.82 64.95,680.09 71.85,676.16 78.75,666.68 85.65,655.96 92.55,658.64 99.45,659.53 106.35,660.78 113.25,675.62 120.15,679.2 127.05,673.48 133.95,680.09 140.85,688.68"/>
</g>
<path class="k" stroke="#000" d="M23.55 721.5h4.2M189.15 721.5h-4.2M23.55 713.55h5.8M189.15 713.55h-5.8M23.55 705.79h4.2M189.15 705.79h-4.2M23.55 698.2h5.8M189.15 698.2h-5.8M23.55 690.08h4.2M189.15 690.08h-4.2M23.55 682.45h5.8M189.15 682.45h-5.8M23.55 674.37h4.2M189.15 674.37h-4.2M23.55 666.5h5.8M189.15 666.5h-5.8M23.55 658.65h4.2M189.15 658.65h-4.2M23.55 650.7h5.8M189.15 650.7h-5.8M23.55 642.95h4.2M189.15 642.95h-4.2M23.55 635.05h5.8M189.15 635.05h-5.8M23.55 627.24h4.2M189.15 627.24h-4.2M23.55 619.45h5.8M189.15 619.45h-5.8M51.15 611.95v5.8M51.15 729.8v-5.8M78.75 611.95v5.8M78.75 729.8v-5.8M106.35 611.95v5.8M106.35 729.8v-5.8M133.95 611.95v5.8M133.95 729.8v-5.8M161.55 611.95v5.8M161.55 729.8v-5.8M37.35 611.95v4.1M37.35 729.8v-4.1M64.95 611.95v4.1M64.95 729.8v-4.1M92.55 611.95v4.1M92.55 729.8v-4.1M120.15 611.95v4.1M120.15 729.8v-4.1M147.75 611.95v4.1M147.75 729.8v-4.1M175.35 611.95v4.1M175.35 729.8v-4.1"/>
<g stroke="#000" fill="none">
<path stroke-width="1.85" d="M23 611.95H189.95"/>
<path stroke-width="1.7" d="M23 729.8H189.95"/>
<path stroke-width="1.1" d="M23.55 611.03V730.65"/>
<path stroke-width="1.6" d="M189.15 611.03V730.65"/>
</g>
<path class="gr" d="M24.15 713.55H188.25M24.15 698.2H188.25M24.15 682.45H188.25M24.15 666.5H188.25M24.15 650.7H188.25M24.15 635.05H188.25M24.15 619.45H188.25M51.15 612.55V729M78.75 612.55V729M106.35 612.55V729M133.95 612.55V729M161.55 612.55V729"/>
<g class="n" fill="#000">
<text x="19.25" y="732" text-anchor="end">15</text>
<text x="19.25" y="716.2" text-anchor="end">25</text>
<text x="19.25" y="700.85" text-anchor="end">35</text>
<text x="19.25" y="685.1" text-anchor="end">45</text>
<text x="19.25" y="669.15" text-anchor="end">55</text>
<text x="19.25" y="653.35" text-anchor="end">65</text>
<text x="19.25" y="637.7" text-anchor="end">75</text>
<text x="19.25" y="622.1" text-anchor="end">85</text>
<text x="23.65" y="741" text-anchor="middle">0</text>
<text x="51.25" y="741" text-anchor="middle">4</text>
<text x="78.85" y="741" text-anchor="middle">8</text>
<text x="106.45" y="741" text-anchor="middle">12</text>
<text x="134.05" y="741" text-anchor="middle">16</text>
<text x="161.65" y="741" text-anchor="middle">20</text>
<text x="189.25" y="741" text-anchor="middle">24</text>
</g>
<text class="l" x="106.55" y="754.8" fill="#000">Tung Chung</text>
<rect x="3.55" y="755.4" width="195.6" height="3.6" fill="#fff"/>
<clipPath id="k41"><rect x="216.55" y="611.95" width="165.6" height="117.85"/></clipPath>
<g clip-path="url(#k41)">
</g>
<path class="k" stroke="#000" d="M216.55 721.5h4.2M382.15 721.5h-4.2M216.55 713.55h5.8M382.15 713.55h-5.8M216.55 705.79h4.2M382.15 705.79h-4.2M216.55 698.2h5.8M382.15 698.2h-5.8M216.55 690.08h4.2M382.15 690.08h-4.2M216.55 682.45h5.8M382.15 682.45h-5.8M216.55 674.37h4.2M382.15 674.37h-4.2M216.55 666.5h5.8M382.15 666.5h-5.8M216.55 658.65h4.2M382.15 658.65h-4.2M216.55 650.7h5.8M382.15 650.7h-5.8M216.55 642.95h4.2M382.15 642.95h-4.2M216.55 635.05h5.8M382.15 635.05h-5.8M216.55 627.24h4.2M382.15 627.24h-4.2M216.55 619.45h5.8M382.15 619.45h-5.8M244.15 611.95v5.8M244.15 729.8v-5.8M271.75 611.95v5.8M271.75 729.8v-5.8M299.35 611.95v5.8M299.35 729.8v-5.8M326.95 611.95v5.8M326.95 729.8v-5.8M354.55 611.95v5.8M354.55 729.8v-5.8M230.35 611.95v4.1M230.35 729.8v-4.1M257.95 611.95v4.1M257.95 729.8v-4.1M285.55 611.95v4.1M285.55 729.8v-4.1M313.15 611.95v4.1M313.15 729.8v-4.1M340.75 611.95v4.1M340.75 729.8v-4.1M368.35 611.95v4.1M368.35 729.8v-4.1"/>
<g stroke="#000" fill="none">
<path stroke-width="1.85" d="M216 611.95H382.95"/>
<path stroke-width="1.7" d="M216 729.8H382.95"/>
<path stroke-width="1.1" d="M216.55 611.03V730.65"/>
<path stroke-width="1.6" d="M382.15 611.03V730.65"/>
</g>
<path class="gr" d="M217.15 713.55H381.25M217.15 698.2H381.25M217.15 682.45H381.25M217.15 666.5H381.25M217.15 650.7H381.25M217.15 635.05H381.25M217.15 619.45H381.25M244.15 612.55V729M271.75 612.55V729M299.35 612.55V729M326.95 612.55V729M354.55 612.55V729"/>
<g class="n" fill="#000">
<text x="212.25" y="732" text-anchor="end">15</text>
<text x="212.25" y="716.2" text-anchor="end">25</text>
<text x="212.25" y="700.85" text-anchor="end">35</text>
<text x="212.25" y="685.1" text-anchor="end">45</text>
<text x="212.25" y="669.15" text-anchor="end">55</text>
<text x="212.25" y="653.35" text-anchor="end">65</text>
<text x="212.25" y="637.7" text-anchor="end">75</text>
<text x="212.25" y="622.1" text-anchor="end">85</text>
<text x="216.65" y="741" text-anchor="middle">0</text>
<text x="244.25" y="741" text-anchor="middle">4</text>
<text x="271.85" y="741" text-anchor="middle">8</text>
<text x="299.45" y="741" text-anchor="middle">12</text>
<text x="327.05" y="741" text-anchor="middle">16</text>
<text x="354.65" y="741" text-anchor="middle">20</text>
<text x="382.25" y="741" text-anchor="middle">24</text>
</g>
<text class="l" x="299.55" y="754.8" fill="#000">Airport, Pump House 5</text>
<rect x="196.55" y="755.4" width="195.6" height="3.6" fill="#fff"/>
<clipPath id="k42"><rect x="409.55" y="611.95" width="165.6" height="117.85"/></clipPath>
<g clip-path="url(#k42)">
<polyline class="s c" points="409.55,719.43 416.45,719.43 423.35,709.59 430.25,708.7 437.15,708.7 444.05,709.59 450.95,710.49 457.85,707.81 464.75,706.91 471.65,698.87 478.55,700.65 485.45,699.76 492.35,697.62 499.25,701.55 506.15,705.12 513.05,707.27 519.95,693.86 526.85,692.61 533.75,689.57 540.65,688.14 547.55,693.86 554.45,697.08 561.35,701.55 568.25,702.09 575.15,697.97"/>
<polyline class="s g" points="409.55,697.97 416.45,699.22 423.35,697.97 430.25,698.33 437.15,692.61 444.05,689.93 450.95,694.93 457.85,697.97 464.75,699.76 471.65,702.09 478.55,702.44 485.45,707.81 492.35,704.23 499.25,701.55 506.15,701.01 513.05,700.3 519.95,702.44 526.85,699.76 533.75,702.98 540.65,710.49 547.55,711.38 554.45,708.7 561.35,709.95 568.25,716.21 575.15,718.53"/>
<polyline class="s b" points="409.55,718.89 416.45,712.28 423.35,717.64 430.25,714.42 437.15,708.7 444.05,708.7 450.95,707.81 457.85,703.69 464.75,705.12 471.65,706.91 478.55,705.12 485.45,701.01 492.35,709.06 499.25,709.24 506.15,710.85 513.05,701.01 519.95,701.55 526.85,696.19 533.75,697.44 540.65,698.33 547.55,704.23 554.45,709.59 561.35,714.06 568.25,711.92 575.15,707.27"/>
<polyline class="s r" points="409.55,707.27 416.45,704.23 423.35,702.98 430.25,701.55 437.15,700.3 444.05,695.65 450.95,687.25 457.85,676.16 464.75,667.58 471.65,669.9 478.55,667.94 485.45,669.01 492.35,671.15 499.25,680.99 506.15,684.92 513.05,691.36 519.95,703.69 526.85,708.34"/>
</g>
<path class="k" stroke="#000" d="M409.55 721.5h4.2M575.15 721.5h-4.2M409.55 713.55h5.8M575.15 713.55h-5.8M409.55 705.79h4.2M575.15 705.79h-4.2M409.55 698.2h5.8M575.15 698.2h-5.8M409.55 690.08h4.2M575.15 690.08h-4.2M409.55 682.45h5.8M575.15 682.45h-5.8M409.55 674.37h4.2M575.15 674.37h-4.2M409.55 666.5h5.8M575.15 666.5h-5.8M409.55 658.65h4.2M575.15 658.65h-4.2M409.55 650.7h5.8M575.15 650.7h-5.8M409.55 642.95h4.2M575.15 642.95h-4.2M409.55 635.05h5.8M575.15 635.05h-5.8M409.55 627.24h4.2M575.15 627.24h-4.2M409.55 619.45h5.8M575.15 619.45h-5.8M437.15 611.95v5.8M437.15 729.8v-5.8M464.75 611.95v5.8M464.75 729.8v-5.8M492.35 611.95v5.8M492.35 729.8v-5.8M519.95 611.95v5.8M519.95 729.8v-5.8M547.55 611.95v5.8M547.55 729.8v-5.8M423.35 611.95v4.1M423.35 729.8v-4.1M450.95 611.95v4.1M450.95 729.8v-4.1M478.55 611.95v4.1M478.55 729.8v-4.1M506.15 611.95v4.1M506.15 729.8v-4.1M533.75 611.95v4.1M533.75 729.8v-4.1M561.35 611.95v4.1M561.35 729.8v-4.1"/>
<g stroke="#000" fill="none">
<path stroke-width="1.85" d="M409 611.95H575.95"/>
<path stroke-width="1.7" d="M409 729.8H575.95"/>
<path stroke-width="1.1" d="M409.55 611.03V730.65"/>
<path stroke-width="1.6" d="M575.15 611.03V730.65"/>
</g>
<path class="gr" d="M410.15 713.55H574.25M410.15 698.2H574.25M410.15 682.45H574.25M410.15 666.5H574.25M410.15 650.7H574.25M410.15 635.05H574.25M410.15 619.45H574.25M437.15 612.55V729M464.75 612.55V729M492.35 612.55V729M519.95 612.55V729M547.55 612.55V729"/>
<g class="n" fill="#000">
<text x="405.25" y="732" text-anchor="end">15</text>
<text x="405.25" y="716.2" text-anchor="end">25</text>
<text x="405.25" y="700.85" text-anchor="end">35</text>
<text x="405.25" y="685.1" text-anchor="end">45</text>
<text x="405.25" y="669.15" text-anchor="end">55</text>
<text x="405.25" y="653.35" text-anchor="end">65</text>
<text x="405.25" y="637.7" text-anchor="end">75</text>
<text x="405.25" y="622.1" text-anchor="end">85</text>
<text x="409.65" y="741" text-anchor="middle">0</text>
<text x="437.25" y="741" text-anchor="middle">4</text>
<text x="464.85" y="741" text-anchor="middle">8</text>
<text x="492.45" y="741" text-anchor="middle">12</text>
<text x="520.05" y="741" text-anchor="middle">16</text>
<text x="547.65" y="741" text-anchor="middle">20</text>
<text x="575.25" y="741" text-anchor="middle">24</text>
</g>
<text class="l" x="492.55" y="754.8" fill="#000">Southern</text>
<rect x="389.55" y="755.4" width="195.6" height="3.6" fill="#fff"/>
<clipPath id="k44"><rect x="795.55" y="611.95" width="165.6" height="117.85"/></clipPath>
<g clip-path="url(#k44)">
<polyline class="a" stroke="#ff0000" points="795.55,709.59 797.27,705.48 799,705.12 800.72,707.81 802.45,704.23 804.17,703.34 805.9,702.98 807.62,702.44 809.35,697.97 811.07,693.5 812.8,693.15 814.52,692.61 816.25,699.22 817.97,696.72 819.7,696.19 821.42,678.31 823.15,676.52 824.88,677.41 826.6,674.73 828.32,673.84 830.05,678.31 831.77,681.88 833.5,683.67 835.22,694.4 836.95,697.08 838.67,697.62 840.4,695.83 842.12,695.83 843.85,693.5 845.57,692.07 847.3,692.61 849.02,697.97 850.75,698.87 852.47,699.76 854.2,698.87 855.92,694.4 857.65,696.72 859.38,692.61 861.1,685.99 862.82,689.39 864.55,689.93 866.27,687.25 868,689.03 869.72,689.03 871.45,667.04 873.17,662.57 874.9,683.13 876.62,692.61 878.35,699.22 880.07,701.55 881.8,706.56 883.52,710.49 885.25,701.55 886.97,706.56 888.7,706.02 890.42,702.98 892.15,690.28 893.88,686.89 895.6,688.5 897.32,687.6 899.05,687.78 900.77,689.93 902.5,692.07 904.22,680.09 905.95,677.95 907.67,680.09 909.4,681.35 911.12,679.2 912.85,675.27 914.57,688.14 916.3,702.98 918.02,702.44 919.75,697.97 921.47,700.65 923.2,702.8 924.92,706.02 926.65,699.22 928.38,687.25 930.1,679.56 931.82,675.09 933.55,667.04 935.27,664.36 937,663.47 938.72,657.21 940.45,656.85 942.17,669.37 943.9,673.3 945.62,685.99 947.35,700.3 949.07,704.77"/>
<polyline class="a" stroke="#ff0000" points="795.55,688.14 797.27,672.94 799,657.21 800.72,661.86 802.45,664.54 804.17,647.02 805.9,654.17 807.62,689.03 809.35,696.19 811.07,691.72 812.8,682.78 814.52,689.03 816.25,691.36 817.97,696.72 819.7,698.87 821.42,697.97 823.15,690.82 824.88,680.09 826.6,681.88 828.32,684.21 830.05,678.66 831.77,686.35 833.5,691.36 835.22,689.03 836.95,669.37 838.67,661.68 840.4,673.3 842.12,670.26 843.85,667.58 845.57,657.74 847.3,668.83 849.02,695.29 850.75,702.44 852.47,698.33 854.2,695.65 855.92,694.93 857.65,705.12 859.38,701.01 861.1,698.87 862.82,696.19 864.55,692.07 866.27,687.6 868,688.14 869.72,693.15 871.45,693.86 873.17,686.71 874.9,679.2 876.62,675.98 878.35,653.63 880.07,673.84 881.8,613.58 883.52,688.68 885.25,690.46 886.97,673.3 888.7,694.75 890.42,696.19 892.15,693.5 893.88,686.35 895.6,684.92 897.32,690.28 899.05,662.57 900.77,667.58 902.5,682.78 904.22,676.16 905.95,680.09 907.67,678.31 909.4,681.88 911.12,688.68 912.85,693.86 914.57,701.91 916.3,704.23 918.02,699.76 919.75,678.31 921.47,635.04 923.2,616.09 924.92,671.15 926.65,660.43 928.38,640.76 930.1,653.63 931.82,670.62 933.55,663.47 935.27,664.36 937,654.53 938.72,664 940.45,656.31 942.17,662.57 943.9,675.27 945.62,667.94 947.35,683.13 949.07,693.86"/>
<polyline class="a" stroke="#ff0000" points="795.55,690.46 797.27,697.62 799,698.87 800.72,701.55 802.45,703.34 804.17,705.12 805.9,702.98 807.62,701.91 809.35,685.46 811.07,679.2 812.8,675.62 814.52,681.88 816.25,680.99 817.97,680.09 819.7,678.31 821.42,680.09 823.15,671.15 824.88,666.68 826.6,672.05 828.32,671.51 830.05,667.58 831.77,661.68 833.5,673.84 835.22,682.24 836.95,688.68 838.67,690.82 840.4,691.36 842.12,691.36 843.85,692.07 845.57,696.19 847.3,691.72 849.02,692.61 850.75,692.61 852.47,692.07 854.2,688.14 855.92,686.35 857.65,693.15 859.38,685.46 861.1,680.99 862.82,675.27 864.55,664.9 866.27,668.47 868,672.94 869.72,672.94 871.45,669.01 873.17,673.48 874.9,679.2 876.62,689.03 878.35,689.03 880.07,685.99 881.8,702.44 883.52,711.02 885.25,704.23 886.97,701.91 888.7,702.09 890.42,698.87 892.15,683.31 893.88,683.67 895.6,686.71 897.32,682.78 899.05,676.88 900.77,687.25 902.5,677.77 904.22,672.05 905.95,672.41 907.67,679.74 909.4,670.62 911.12,672.58 912.85,677.41 914.57,685.1 916.3,690.46 918.02,699.22 919.75,699.76 921.47,691.36 923.2,684.92 924.92,688.14 926.65,679.74 928.38,682.42 930.1,651.49 931.82,663.11 933.55,652.38 935.27,650.59 937,643.08 938.72,651.13 940.45,657.74 942.17,656.85 943.9,661.68 945.62,676.16 947.35,681.88 949.07,692.61"/>
<polyline class="a" stroke="#0000ff" points="795.55,707.81 797.27,708.7 799,716.21 800.72,715.85 802.45,712.81 804.17,709.59 805.9,702.44 807.62,690.46 809.35,687.78 811.07,692.61 812.8,694.4 814.52,693.5 816.25,697.97 817.97,699.22 819.7,703.34 821.42,702.98 823.15,701.55 824.88,696.54 826.6,696.19 828.32,688.68 830.05,688.14 831.77,688.14 833.5,690.82 835.22,695.29 836.95,701.55 838.67,704.77 840.4,704.77 842.12,700.65 843.85,699.22 845.57,701.55 847.3,699.76 849.02,697.97 850.75,696.72 852.47,693.15 854.2,692.79 855.92,697.08 857.65,698.33 859.38,694.93 861.1,697.08 862.82,691.72 864.55,672.05 866.27,661.86 868,657.39 869.72,669.01 871.45,675.27 873.17,680.09 874.9,689.03 876.62,691.36 878.35,689.57 880.07,690.11 881.8,697.97 883.52,702.8 885.25,698.33 886.97,706.02 888.7,711.92 890.42,706.56 892.15,696.72 893.88,687.25 895.6,686.71 897.32,685.64 899.05,677.41 900.77,678.13 902.5,683.13 904.22,694.4 905.95,708.34 907.67,715.85 909.4,708.34 911.12,701.55 912.85,686.35 914.57,695.83 916.3,700.65 918.02,708.7 919.75,711.74 921.47,712.81 923.2,708.34 924.92,696.19 926.65,683.13 928.38,669.01 930.1,669.37 931.82,664.36 933.55,657.21 935.27,656.49 937,659.17 938.72,663.11 940.45,662.21 942.17,674.37 943.9,677.41 945.62,678.84 947.35,679.38 949.07,682.95"/>
<polyline class="a" stroke="#0000ff" points="795.55,718 797.27,714.06 799,712.28 800.72,728.01 802.45,718 804.17,710.85 805.9,708.7 807.62,705.12 809.35,702.44 811.07,702.44 812.8,692.61 814.52,701.01 816.25,701.01 817.97,704.23 819.7,708.7 821.42,714.06 823.15,704.23 824.88,705.12 826.6,697.08 828.32,690.82 830.05,693.5 831.77,717.28 833.5,697.08 835.22,696.72 836.95,702.44 838.67,698.33 840.4,715.85 842.12,697.08 843.85,685.99 845.57,701.19 847.3,701.91 849.02,694.04 850.75,693.15 852.47,687.25 854.2,688.68 855.92,692.61 857.65,691.72 859.38,692.97 861.1,696.54 862.82,707.27 864.55,712.81 866.27,710.49 868,700.65 869.72,693.5 871.45,692.97 873.17,695.29 874.9,697.62 876.62,706.91 878.35,705.12 880.07,709.59 881.8,712.28 883.52,701.55 885.25,705.48 886.97,716.75 888.7,712.81 890.42,706.38 892.15,693.15 893.88,680.99 895.6,676.52 897.32,684.92 899.05,693.86 900.77,694.4 902.5,696.54 904.22,692.61 905.95,684.56 907.67,700.3 909.4,706.91 911.12,702.44 912.85,704.77 914.57,704.23 916.3,703.34 918.02,716.21 919.75,725.15 921.47,716.21 923.2,705.48 924.92,697.62 926.65,697.08 928.38,683.67 930.1,676.52 931.82,665.25 933.55,667.22 935.27,667.22 937,656.49 938.72,663.64 940.45,671.51 942.17,664.54 943.9,680.99 945.62,689.03 947.35,688.68 949.07,704.77"/>
<polyline class="a" stroke="#0000ff" points="795.55,719.43 797.27,720.32 799,720.32 800.72,723 802.45,720.32 804.17,708.16 805.9,705.12 807.62,706.91 809.35,704.23 811.07,697.97 812.8,701.55 814.52,701.55 816.25,699.76 817.97,701.55 819.7,700.65 821.42,706.02 823.15,704.23 824.88,701.55 826.6,697.97 828.32,698.87 830.05,697.08 831.77,693.86 833.5,693.86 835.22,699.76 836.95,703.34 838.67,703.34 840.4,701.55 842.12,697.08 843.85,696.19 845.57,695.29 847.3,692.07 849.02,696.19 850.75,697.08 852.47,696.19 854.2,696.72 855.92,702.09 857.65,699.76 859.38,697.62 861.1,697.62 862.82,701.01 864.55,697.08 866.27,698.51 868,698.87 869.72,697.97 871.45,703.34 873.17,702.98 874.9,707.81 876.62,705.12 878.35,706.02 880.07,707.27 881.8,708.34 883.52,711.38 885.25,713.53 886.97,712.28 888.7,704.23 890.42,702.44 892.15,701.01 893.88,693.5 895.6,687.6 897.32,686.35 899.05,689.93 900.77,692.07 902.5,689.03 904.22,689.93 905.95,689.93 907.67,694.04 909.4,694.04 911.12,700.12 912.85,701.55 914.57,707.45 916.3,712.81 918.02,713.71 919.75,710.49 921.47,709.59 923.2,712.28 924.92,707.27 926.65,692.97 928.38,683.67 930.1,683.31 931.82,667.58 933.55,660.43 935.27,654.17 937,652.74 938.72,658.28 940.45,667.94 942.17,674.73 943.9,682.42 945.62,690.46 947.35,702.44 949.07,705.66"/>
<polyline class="a" stroke="#0000ff" points="795.55,712.28 797.27,706.56 799,702.44 800.72,702.44 802.45,698.33 804.17,698.33 805.9,700.3 807.62,694.4 809.35,700.3 811.07,701.55 812.8,697.97 814.52,696.19 816.25,697.08 817.97,693.15 819.7,692.61 821.42,692.97 823.15,693.5 824.88,692.61 826.6,692.61 828.32,694.4 830.05,693.86 831.77,696.19 833.5,699.76 835.22,698.33 836.95,697.44 838.67,697.08 840.4,696.19 842.12,702.44 843.85,698.87 845.57,689.93 847.3,693.86 849.02,692.97 850.75,697.97 852.47,698.33 854.2,701.55 855.92,702.98 857.65,702.98 859.38,698.87 861.1,695.29 862.82,695.29 864.55,693.86 866.27,692.61 868,698.87 869.72,701.01 871.45,702.98 873.17,714.06 874.9,723.9 876.62,726.22 878.35,729.62 880.07,720.86 881.8,721.22 883.52,723 885.25,720.86 886.97,721.75 888.7,719.79 890.42,711.02 892.15,723.54 893.88,711.74 895.6,697.97 897.32,694.4 899.05,697.44 900.77,702.8 902.5,697.44 904.22,697.44 905.95,697.08 907.67,701.55 909.4,705.48 911.12,711.38 912.85,717.1 914.57,719.43 916.3,715.85 918.02,709.24 919.75,716.21 921.47,721.22 923.2,718.53 924.92,706.02 926.65,692.97 928.38,673.48 930.1,667.94 931.82,667.22 933.55,656.49 935.27,659 937,663.11 938.72,672.41 940.45,676.16 942.17,685.81 943.9,694.4 945.62,697.08 947.35,702.98 949.07,708.7"/>
<polyline class="a" stroke="#0000ff" points="795.55,688.68 797.27,691.72 799,697.08 800.72,689.03 802.45,704.23 804.17,704.23 805.9,699.22 807.62,689.93 809.35,683.13 811.07,669.37 812.8,675.27 814.52,665.79 816.25,677.41 817.97,679.2 819.7,682.24 821.42,688.14 823.15,681.88 824.88,679.2 857.65,677.77 859.38,692.97 861.1,691.36 862.82,687.25 864.55,692.97 866.27,677.77 868,671.69 869.72,678.31 871.45,661.86 873.17,661.86 874.9,663.47 876.62,669.37 878.35,668.47 880.07,671.15 881.8,671.15 883.52,678.31 885.25,696.19 886.97,693.15 888.7,691.36 890.42,688.5 892.15,686.35 893.88,678.31 895.6,666.68 897.32,660.43 899.05,658.28 900.77,656.31 902.5,675.09 904.22,659.17 905.95,636.65 907.67,630.03 909.4,625.56 911.12,634.86 912.85,678.66 914.57,680.99 916.3,686.89 918.02,680.99 919.75,691.72 921.47,693.15 923.2,697.62 924.92,688.14 926.65,676.88 928.38,656.49 930.1,641.12 931.82,633.25 933.55,630.03 935.27,620.73 937,614.3 938.72,614.3 940.45,612.69 942.17,632.71 943.9,633.07 945.62,635.4 947.35,646.48 949.07,659.89"/>
<polyline class="a" stroke="#0000ff" points="795.55,728.37 797.27,728.01 799,725.15 800.72,721.22 802.45,716.75 804.17,714.96 805.9,711.74 807.62,714.06 809.35,706.38 811.07,702.44 812.8,705.12 814.52,706.91 816.25,712.28 817.97,711.92 819.7,711.74 821.42,708.7 823.15,709.24 824.88,702.44 826.6,700.65 828.32,694.4 830.05,688.68 831.77,694.93 833.5,699.76 835.22,711.38 836.95,709.59 838.67,710.85 840.4,711.74 842.12,706.38 843.85,702.98 845.57,706.02 847.3,705.66 849.02,706.38 850.75,708.34 852.47,715.85 854.2,706.91 855.92,706.38 857.65,703.34 859.38,706.91 861.1,707.27 862.82,701.55 864.55,697.97 866.27,692.97 868,691.36 869.72,688.68 871.45,692.61 873.17,696.54 874.9,699.76 876.62,707.27 878.35,709.24 880.07,713.53 881.8,716.75 883.52,717.64 885.25,715.49 886.97,715.49 888.7,715.49 890.42,713.17 892.15,708.7 893.88,701.91 895.6,705.12 897.32,706.02 899.05,702.8 900.77,701.91 902.5,703.34 904.22,691.72 905.95,671.69 907.67,681.88 909.4,693.5 911.12,698.33 912.85,699.22 914.57,701.91 916.3,710.49 918.02,717.28 919.75,719.43 921.47,718.53 923.2,715.49 924.92,717.64 926.65,706.38 928.38,697.44 930.1,690.82 931.82,688.5 933.55,680.45 935.27,677.95 937,677.41 942.17,687.25 943.9,697.44 945.62,701.55 947.35,704.23 949.07,708.34"/>
<polyline class="a" stroke="#0000ff" points="795.55,711.74 797.27,709.59 799,704.23 800.72,706.91 802.45,706.02 804.17,702.44 805.9,702.98 807.62,702.98 809.35,696.19 811.07,695.29 812.8,693.5 814.52,697.97 816.25,699.76 817.97,706.56 819.7,703.34 821.42,697.97 823.15,690.82 824.88,687.6 826.6,683.13 828.32,683.31 830.05,682.42 831.77,686.35 833.5,692.61 835.22,696.19 836.95,700.65 838.67,698.51 840.4,694.93 842.12,696.54 843.85,696.72 845.57,693.5 847.3,690.46 849.02,697.08 850.75,700.3 852.47,702.44 854.2,699.76 855.92,697.62 857.65,702.09 859.38,700.65 861.1,696.19 862.82,693.86 864.55,692.07 866.27,690.46 868,692.07 869.72,685.46 871.45,683.13 873.17,684.21 874.9,692.07 876.62,694.4 878.35,701.55 880.07,703.87 881.8,706.91 883.52,708.7 885.25,704.59 886.97,705.12 888.7,705.12 890.42,705.12 892.15,694.4 893.88,695.65 895.6,697.44 897.32,701.55 899.05,698.51 900.77,700.65 902.5,699.22 904.22,694.4 905.95,689.39 907.67,681.88 909.4,685.46 911.12,688.68 912.85,692.61 914.57,698.33 916.3,705.12 918.02,706.91 919.75,707.27 921.47,705.48 923.2,705.48 924.92,702.8 926.65,698.87 928.38,688.5 930.1,680.45 931.82,675.98 933.55,668.47 935.27,669.37 937,666.33 938.72,664 940.45,664 942.17,677.05 943.9,685.46 945.62,690.28 947.35,698.87 949.07,702.8"/>
<polyline class="a" stroke="#0000ff" points="795.55,716.75 797.27,723 799,721.22 800.72,718.53 802.45,709.24 804.17,710.49 805.9,706.91 807.62,706.91 809.35,703.34 811.07,697.97 812.8,701.55 814.52,703.34 816.25,706.02 817.97,706.02 819.7,707.45 821.42,706.02 823.15,706.91 824.88,705.12 826.6,702.44 828.32,700.65 830.05,702.44 831.77,705.12 833.5,705.12 835.22,709.24 836.95,713.17 838.67,707.27 840.4,706.38 842.12,703.34 843.85,702.8 845.57,699.76 847.3,701.55 849.02,703.69 850.75,709.59 852.47,706.91 854.2,703.34 855.92,702.98 857.65,706.91 859.38,712.81 861.1,711.38 862.82,709.59 864.55,709.95 866.27,708.7 868,706.91 869.72,705.12 871.45,702.09 873.17,704.23 874.9,703.87 876.62,706.38 878.35,710.49 880.07,716.75 881.8,718 883.52,718 885.25,715.85 886.97,718 888.7,716.75 890.42,712.63 892.15,706.91 893.88,706.91 895.6,708.7 897.32,707.45 899.05,702.44 900.77,702.8 902.5,700.65 904.22,700.65 905.95,701.91 907.67,702.09 909.4,706.91 911.12,709.24 912.85,712.28 914.57,718 916.3,720.68 918.02,718.53 919.75,714.06 921.47,717.28 923.2,716.75 924.92,712.81 926.65,702.09 928.38,689.03 930.1,682.24 931.82,680.09 933.55,673.84 935.27,670.62 937,669.37 938.72,671.15 940.45,675.09 942.17,681.52 949.07,707.81"/>
<polyline class="a" stroke="#0000ff" points="795.55,721.22 797.27,712.28 799,710.49 800.72,710.49 802.45,704.23 804.17,706.02 805.9,704.59 807.62,705.12 809.35,693.5 811.07,687.25 812.8,696.19 814.52,697.97 816.25,699.76 817.97,702.44 819.7,701.55 821.42,693.5 823.15,696.19 824.88,700.3 826.6,697.97 828.32,697.08 830.05,689.03 831.77,694.4 833.5,698.87 835.22,701.55 836.95,707.27 838.67,704.23 840.4,702.8 842.12,699.76 843.85,699.76 845.57,694.4 847.3,695.29 849.02,699.22 850.75,700.65 852.47,703.87 854.2,697.08 855.92,696.19 857.65,701.55 859.38,701.55 861.1,702.44 862.82,707.45 864.55,694.4 866.27,693.15 868,687.6 869.72,681.35 871.45,686.35 873.17,689.57 874.9,695.29 876.62,696.19 878.35,704.23 880.07,707.81 881.8,707.45 883.52,712.81 885.25,706.56 886.97,708.7 888.7,710.49 890.42,706.91 892.15,706.56 893.88,696.72 895.6,693.86 897.32,695.29 899.05,693.15 900.77,696.19 902.5,698.33 904.22,689.03 905.95,688.68 907.67,679.56 909.4,680.09 911.12,682.24 912.85,690.46 914.57,699.22 916.3,708.16 918.02,713.53 919.75,713.71 921.47,711.74 923.2,712.28 924.92,707.27 926.65,702.44 928.38,695.29 930.1,688.14 931.82,676.52 933.55,663.64 935.27,660.96 937,665.43 938.72,665.25 940.45,669.01 942.17,676.16 943.9,678.31 945.62,690.28 947.35,696.54 949.07,704.23"/>
<polyline class="a" stroke="#0000ff" points="795.55,712.81 797.27,712.81 799,707.27 800.72,706.91 802.45,703.34 804.17,703.69 805.9,702.44 807.62,697.97 809.35,690.82 811.07,691.72 812.8,692.07 814.52,696.19 816.25,696.72 817.97,696.54 819.7,695.65 821.42,696.19 823.15,695.29 824.88,694.4 826.6,689.93 828.32,693.5 830.05,692.61 831.77,693.5 833.5,697.44 835.22,698.87 836.95,701.55 838.67,699.22 840.4,695.29 842.12,693.86 843.85,694.4 845.57,692.07 847.3,695.29 849.02,697.97 850.75,698.51 852.47,700.65 854.2,699.22 855.92,701.01 857.65,702.98 859.38,702.98 861.1,703.69 862.82,700.65 864.55,697.08 866.27,693.86 868,697.08 869.72,694.4 871.45,689.03 873.17,697.97 874.9,707.27 876.62,704.59 878.35,707.27 880.07,709.59 881.8,710.49 883.52,709.24 885.25,708.34 886.97,708.7 888.7,704.59 890.42,699.22 892.15,689.57 893.88,694.93 895.6,692.61 897.32,696.72 899.05,699.22 900.77,705.66 902.5,702.09 904.22,696.72 905.95,696.54 907.67,697.97 909.4,697.08 911.12,698.87 912.85,707.81 914.57,707.81 916.3,709.95 918.02,707.81 919.75,708.16 921.47,704.23 923.2,702.44 924.92,703.34 926.65,695.29 928.38,684.03 930.1,672.41 931.82,666.68 933.55,668.47 935.27,661.32 937,659.17 938.72,664 940.45,669.72 942.17,678.31 943.9,684.56 945.62,682.78 947.35,689.03 949.07,697.97"/>
<polyline class="a" stroke="#0000ff" points="795.55,708.7 797.27,711.38 799,701.55 800.72,695.29 802.45,697.08 804.17,695.29 805.9,694.04 807.62,697.08 809.35,705.12 811.07,697.08 812.8,690.82 814.52,688.68 816.25,692.61 817.97,698.87 819.7,696.19 821.42,693.5 823.15,690.82 824.88,687.25 826.6,689.03 828.32,690.46 830.05,688.14 831.77,689.93 833.5,688.5 835.22,690.82 836.95,693.86 838.67,692.61 840.4,688.68 842.12,687.25 843.85,690.82 845.57,685.81 847.3,686.89 849.02,686.89 850.75,690.46 852.47,696.19 854.2,693.86 855.92,694.4 857.65,697.62 859.38,698.87 861.1,693.15 862.82,693.15 864.55,690.46 866.27,690.82 868,691.36 869.72,690.82 871.45,689.03 873.17,693.86 874.9,693.15 876.62,698.33 878.35,697.97 880.07,705.12 881.8,703.34 883.52,701.55 885.25,698.87 886.97,699.76 888.7,697.97 890.42,691.72 892.15,687.25 893.88,693.15 895.6,686.71 897.32,690.28 899.05,701.55 900.77,703.34 902.5,702.8 904.22,697.44 905.95,697.97 907.67,697.44 909.4,697.97 911.12,702.44 912.85,702.98 914.57,708.34 916.3,706.02 918.02,705.48 919.75,697.62 921.47,695.29 923.2,696.19 924.92,697.08 926.65,687.25 928.38,673.3 930.1,666.68 931.82,660.78 933.55,657.21 935.27,647.37 937,652.92 938.72,667.94 940.45,669.37 942.17,674.37 943.9,685.46 945.62,697.08 947.35,695.83 949.07,698.87"/>
<polyline class="a" stroke="#0000ff" points="795.55,706.91 797.27,706.91 799,706.02 800.72,705.12 802.45,701.55 804.17,702.44 805.9,702.98 807.62,698.87 809.35,697.08 811.07,692.61 812.8,689.03 814.52,692.61 816.25,691.36 817.97,694.4 819.7,702.44 821.42,690.82 823.15,686.35 824.88,684.56 826.6,684.56 828.32,687.6 830.05,687.25 831.77,689.03 833.5,692.61 835.22,693.86 836.95,697.97 838.67,697.97 840.4,696.19 842.12,689.93 843.85,689.39 845.57,687.78 847.3,687.25 849.02,693.86 850.75,697.08 852.47,695.29 854.2,697.62 855.92,701.19 857.65,702.44 859.38,701.55 861.1,697.62 862.82,692.97 864.55,693.86 866.27,693.5 868,693.5 869.72,694.4 871.45,690.82 873.17,687.78 874.9,692.07 876.62,695.83 878.35,701.55 880.07,701.01 881.8,707.27 883.52,707.27 885.25,700.65 886.97,702.98 888.7,701.55 890.42,697.97 892.15,692.61 893.88,691.72 895.6,686.35 897.32,689.03 899.05,694.75 900.77,697.97 902.5,697.44 904.22,686.35 905.95,680.99 907.67,689.03 909.4,692.61 911.12,694.4 912.85,697.97 914.57,705.48 916.3,711.74 918.02,711.92 919.75,707.45 921.47,705.66 923.2,700.65 924.92,704.23 926.65,700.65 928.38,690.28 930.1,682.78 931.82,675.98 933.55,671.69 935.27,665.79 937,663.11 938.72,662.75 940.45,663.11 942.17,669.01 943.9,677.41 945.62,680.09 947.35,694.4 949.07,702.98"/>
<polyline class="a" stroke="#0000ff" points="795.55,713.17 797.27,705.12 799,703.34 800.72,700.65 802.45,705.48 804.17,705.12 805.9,701.01 807.62,702.98 809.35,699.76 811.07,693.5 812.8,691.36 814.52,693.86 816.25,695.29 817.97,697.44 819.7,697.97 821.42,697.44 823.15,690.82 824.88,688.14 826.6,683.67 828.32,688.68 830.05,692.97 831.77,693.86 833.5,693.5 835.22,701.55 836.95,701.55 838.67,697.08 840.4,692.97 842.12,693.86 843.85,690.28 845.57,686.35 847.3,690.82 849.02,693.86 850.75,697.62 852.47,697.97 854.2,699.76 855.92,701.55 857.65,702.44 859.38,702.44 861.1,697.62 862.82,694.4 864.55,691.72 866.27,692.25 868,697.62 869.72,695.29 871.45,695.65 873.17,694.4 874.9,697.97 876.62,701.55 878.35,702.09 880.07,706.91 881.8,708.7 883.52,705.48 885.25,704.23 886.97,705.48 888.7,707.81 890.42,697.97 892.15,693.15 893.88,693.86 895.6,688.14 897.32,693.5 899.05,702.98 900.77,706.02 902.5,697.44 904.22,683.31 905.95,682.24 907.67,684.92 909.4,697.44 911.12,704.23 912.85,712.28 914.57,714.06 916.3,710.49 918.02,709.06 919.75,711.38 921.47,702.98 923.2,700.65 924.92,703.87 926.65,696.54 928.38,686.89 930.1,676.52 931.82,673.84 933.55,670.26 935.27,667.58 937,665.25 938.72,664.9 940.45,670.26 942.17,679.74 943.9,684.56 945.62,688.14 947.35,700.65 949.07,707.27"/>
<polyline class="a" stroke="#0000ff" points="795.55,717.28 797.27,718.18 799,718.89 800.72,708.16 802.45,715.85 804.17,712.28 805.9,708.7 807.62,709.59 809.35,706.91 811.07,699.76 812.8,693.5 814.52,694.4 816.25,702.44 817.97,697.97 819.7,702.44 821.42,703.69 823.15,701.55 824.88,686.35 826.6,687.78 828.32,701.01 830.05,695.29 831.77,696.19 833.5,697.97 835.22,697.97 836.95,700.65 838.67,705.12 840.4,702.98 842.12,699.76 843.85,698.33 845.57,693.86 847.3,693.86 849.02,696.19 850.75,699.22 852.47,702.44 854.2,706.56 855.92,701.19 857.65,697.97 859.38,702.98 861.1,698.87 862.82,684.56 864.55,684.03 866.27,688.14 868,699.22 869.72,707.81 871.45,703.87 873.17,705.12 874.9,704.23 876.62,702.09 878.35,701.55 880.07,697.97 881.8,706.91 883.52,712.81 885.25,713.53 886.97,712.28 888.7,713.17 890.42,710.49 892.15,708.16 893.88,698.33 895.6,692.97 897.32,692.61 899.05,681.52 900.77,685.46 902.5,671.51 904.22,655.96 905.95,661.32 907.67,667.58 909.4,673.48 911.12,677.95 912.85,684.21 914.57,694.93 916.3,706.38 918.02,717.1 919.75,711.92 921.47,708.34 923.2,711.74 924.92,712.81 926.65,703.87 928.38,690.82 930.1,680.09 931.82,676.16 933.55,666.68 935.27,655.96 937,658.64 938.72,659.53 940.45,660.78 942.17,675.62 943.9,679.2 945.62,673.48 947.35,680.09 949.07,688.68"/>
<polyline class="a" stroke="#0000ff" points="795.55,719.43 797.27,719.43 799,709.59 800.72,708.7 802.45,708.7 804.17,709.59 805.9,710.49 807.62,707.81 809.35,706.91 811.07,698.87 812.8,700.65 814.52,699.76 816.25,697.62 817.97,701.55 819.7,705.12 821.42,707.27 823.15,693.86 824.88,692.61 826.6,689.57 828.32,688.14 830.05,693.86 831.77,697.08 833.5,701.55 835.22,702.09 836.95,697.97 838.67,699.22 840.4,697.97 842.12,698.33 843.85,692.61 845.57,689.93 847.3,694.93 849.02,697.97 850.75,699.76 852.47,702.09 854.2,702.44 855.92,707.81 857.65,704.23 859.38,701.55 861.1,701.01 862.82,700.3 864.55,702.44 866.27,699.76 868,702.98 869.72,710.49 871.45,711.38 873.17,708.7 874.9,709.95 876.62,716.21 878.35,718.53 880.07,712.28 881.8,717.64 883.52,714.42 885.25,708.7 886.97,708.7 888.7,707.81 890.42,703.69 892.15,705.12 893.88,706.91 895.6,705.12 897.32,701.01 899.05,709.06 900.77,709.24 902.5,710.85 904.22,701.01 905.95,701.55 907.67,696.19 909.4,697.44 911.12,698.33 912.85,704.23 914.57,709.59 916.3,714.06 918.02,711.92 919.75,707.27 921.47,704.23 923.2,702.98 924.92,701.55 926.65,700.3 928.38,695.65 930.1,687.25 931.82,676.16 933.55,667.58 935.27,669.9 937,667.94 938.72,669.01 940.45,671.15 942.17,680.99 943.9,684.92 945.62,691.36 947.35,703.69 949.07,708.34"/>
</g>
<path class="k" stroke="#000" d="M795.55 721.5h4.2M961.15 721.5h-4.2M795.55 713.55h5.8M961.15 713.55h-5.8M795.55 705.79h4.2M961.15 705.79h-4.2M795.55 698.2h5.8M961.15 698.2h-5.8M795.55 690.08h4.2M961.15 690.08h-4.2M795.55 682.45h5.8M961.15 682.45h-5.8M795.55 674.37h4.2M961.15 674.37h-4.2M795.55 666.5h5.8M961.15 666.5h-5.8M795.55 658.65h4.2M961.15 658.65h-4.2M795.55 650.7h5.8M961.15 650.7h-5.8M795.55 642.95h4.2M961.15 642.95h-4.2M795.55 635.05h5.8M961.15 635.05h-5.8M795.55 627.24h4.2M961.15 627.24h-4.2M795.55 619.45h5.8M961.15 619.45h-5.8M836.95 611.95v5.8M836.95 729.8v-5.8M878.35 611.95v5.8M878.35 729.8v-5.8M919.75 611.95v5.8M919.75 729.8v-5.8M816.25 611.95v4.1M816.25 729.8v-4.1M857.65 611.95v4.1M857.65 729.8v-4.1M899.05 611.95v4.1M899.05 729.8v-4.1M940.45 611.95v4.1M940.45 729.8v-4.1"/>
<g stroke="#000" fill="none">
<path stroke-width="1.85" d="M795 611.95H961.95"/>
<path stroke-width="1.7" d="M795 729.8H961.95"/>
<path stroke-width="1.1" d="M795.55 611.03V730.65"/>
<path stroke-width="1.6" d="M961.15 611.03V730.65"/>
</g>
<path class="gr" d="M796.15 713.55H960.25M796.15 698.2H960.25M796.15 682.45H960.25M796.15 666.5H960.25M796.15 650.7H960.25M796.15 635.05H960.25M796.15 619.45H960.25M836.95 612.55V729M878.35 612.55V729M919.75 612.55V729"/>
<g class="n" fill="#000">
<text x="791.25" y="732" text-anchor="end">15</text>
<text x="791.25" y="716.2" text-anchor="end">25</text>
<text x="791.25" y="700.85" text-anchor="end">35</text>
<text x="791.25" y="685.1" text-anchor="end">45</text>
<text x="791.25" y="669.15" text-anchor="end">55</text>
<text x="791.25" y="653.35" text-anchor="end">65</text>
<text x="791.25" y="637.7" text-anchor="end">75</text>
<text x="791.25" y="622.1" text-anchor="end">85</text>
<text x="795.65" y="741" text-anchor="middle">-72</text>
<text x="837.05" y="741" text-anchor="middle">-48</text>
<text x="878.45" y="741" text-anchor="middle">-24</text>
<text x="919.85" y="741" text-anchor="middle">0</text>
<text x="961.25" y="741" text-anchor="middle">24</text>
</g>
<text class="l" x="878.55" y="754.8" fill="#000" style="letter-spacing:0;font-size:8px">ALL</text>
<rect x="775.55" y="755.4" width="195.6" height="3.6" fill="#fff"/>
</svg></body></html>
